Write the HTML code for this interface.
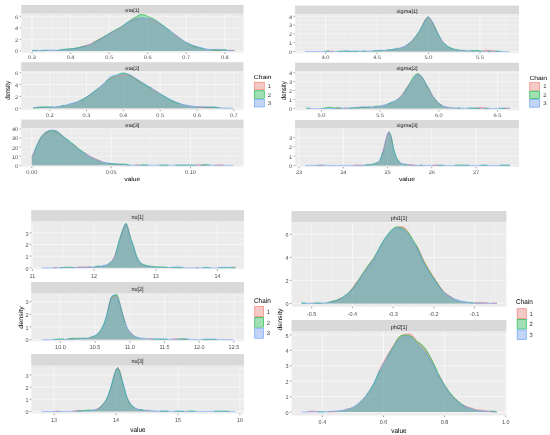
<!DOCTYPE html>
<html><head><meta charset="utf-8"><title>Density plots</title>
<style>
html,body{margin:0;padding:0;background:#fff;}
body{width:550px;height:435px;overflow:hidden;font-family:"Liberation Sans",sans-serif;}
svg{display:block;font-family:"Liberation Sans",sans-serif;filter:blur(0.3px);text-rendering:geometricPrecision;}
</style></head><body>
<svg width="550" height="435" viewBox="0 0 550 435">
<rect width="550" height="435" fill="#fff"/>
<rect x="21.20" y="5.00" width="222.30" height="8.80" fill="#d9d9d9"/>
<text transform="translate(132.35,12.15) scale(1.080,1)" font-size="5.20" text-anchor="middle" fill="#1a1a1a">eta[1]</text>
<rect x="21.20" y="13.80" width="222.30" height="38.80" fill="#ebebeb"/>
<clipPath id="c1"><rect x="21.20" y="13.80" width="222.30" height="38.80"/></clipPath>
<g clip-path="url(#c1)">
<path d="M21.2,45.13H243.5M21.2,33.60H243.5M21.2,22.07H243.5" stroke="#fff" stroke-width="0.23" stroke-opacity="0.8" fill="none"/>
<path d="M51.28,13.8V52.6M89.84,13.8V52.6M128.40,13.8V52.6M166.96,13.8V52.6M205.52,13.8V52.6" stroke="#fff" stroke-width="0.29" stroke-opacity="0.8" fill="none"/>
<path d="M21.2,50.90H243.5M21.2,39.37H243.5M21.2,27.83H243.5M21.2,16.30H243.5" stroke="#fff" stroke-width="0.47" fill="none"/>
<path d="M32.00,13.8V52.6M70.56,13.8V52.6M109.12,13.8V52.6M147.68,13.8V52.6M186.24,13.8V52.6M224.80,13.8V52.6" stroke="#fff" stroke-width="0.59" fill="none"/>
<path d="M32,50.6 33.4,50.4 34.8,50.3 36.2,50.3 37.7,50.4 39.1,50.5 40.5,50.5 41.9,50.4 43.3,50.4 44.7,50.3 46.2,50.3 47.6,50.3 49,50.3 50.4,50.3 51.8,50.3 53.2,50.3 54.7,50.2 56.1,50.2 57.5,50.1 58.9,50 60.3,49.9 61.7,49.8 63.1,49.7 64.6,49.5 66,49.4 67.4,49.2 68.8,49.1 70.2,48.8 71.6,48.6 73.1,48.4 74.5,48.1 75.9,47.9 77.3,47.6 78.7,47.3 80.1,47 81.5,46.6 83,46.2 84.4,45.9 85.8,45.4 87.2,45 88.6,44.6 90,44.1 91.5,43.4 92.9,42.7 94.3,41.9 95.7,41 97.1,40.2 98.5,39.4 100,38.7 101.4,38.1 102.8,37.4 104.2,36.7 105.6,35.9 107,35.2 108.4,34.4 109.9,33.7 111.3,33 112.7,32.3 114.1,31.6 115.5,30.9 116.9,30.2 118.4,29.4 119.8,28.5 121.2,27.5 122.6,26.5 124,25.3 125.4,24.2 126.8,23 128.3,22 129.7,21.2 131.1,20.4 132.5,19.8 133.9,19.2 135.3,18.8 136.8,18.3 138.2,18 139.6,17.7 141,17.7 142.4,17.8 143.8,17.9 145.3,18.2 146.7,18.5 148.1,18.9 149.5,19.2 150.9,19.6 152.3,20.1 153.7,20.7 155.2,21.4 156.6,22.2 158,23 159.4,23.8 160.8,24.6 162.2,25.5 163.7,26.3 165.1,27.2 166.5,28.2 167.9,29.2 169.3,30.2 170.7,31.3 172.2,32.4 173.6,33.5 175,34.7 176.4,35.8 177.8,36.9 179.2,38 180.6,38.9 182.1,39.8 183.5,40.6 184.9,41.4 186.3,42.2 187.7,43 189.1,43.8 190.6,44.5 192,45.1 193.4,45.7 194.8,46.2 196.2,46.7 197.6,47.2 199,47.6 200.5,48 201.9,48.3 203.3,48.5 204.7,48.8 206.1,49 207.5,49.2 209,49.4 210.4,49.5 211.8,49.7 213.2,49.8 214.6,49.8 216,49.8 217.5,49.8 218.9,49.7 220.3,49.5 221.7,49.6 223.1,49.8 224.5,50.1 225.9,50.3 227.4,50.3 228.8,50.3 230.2,50.2 231.6,50.2 233,50.3 234.4,50.6 V50.9 H32Z" fill="#F8766D" fill-opacity="0.33"/>
<path d="M32,50.4 33.4,50.4 34.8,50.4 36.2,50.4 37.7,50.5 39.1,50.6 40.5,50.6 41.9,50.7 43.3,50.7 44.7,50.6 46.2,50.5 47.6,50.3 49,50.2 50.4,50.2 51.8,50.3 53.2,50.4 54.7,50.4 56.1,50.3 57.5,50.2 58.9,50 60.3,49.8 61.7,49.6 63.1,49.4 64.6,49.2 66,49.1 67.4,48.9 68.8,48.8 70.2,48.7 71.6,48.6 73.1,48.5 74.5,48.3 75.9,48.1 77.3,47.8 78.7,47.5 80.1,47.2 81.5,46.9 83,46.6 84.4,46.2 85.8,45.8 87.2,45.4 88.6,45 90,44.4 91.5,43.8 92.9,43.1 94.3,42.3 95.7,41.5 97.1,40.6 98.5,39.8 100,39 101.4,38.2 102.8,37.3 104.2,36.4 105.6,35.5 107,34.7 108.4,33.8 109.9,33 111.3,32.2 112.7,31.4 114.1,30.6 115.5,29.8 116.9,29.1 118.4,28.3 119.8,27.6 121.2,26.8 122.6,25.8 124,24.8 125.4,23.8 126.8,22.7 128.3,21.7 129.7,20.7 131.1,19.8 132.5,18.9 133.9,18 135.3,17.2 136.8,16.3 138.2,15.4 139.6,14.8 141,14.5 142.4,14.5 143.8,14.8 145.3,15.3 146.7,15.8 148.1,16.5 149.5,17.1 150.9,17.7 152.3,18.3 153.7,19 155.2,19.9 156.6,20.8 158,21.8 159.4,22.8 160.8,23.8 162.2,24.8 163.7,25.8 165.1,26.8 166.5,27.9 167.9,29 169.3,30.1 170.7,31.1 172.2,32.2 173.6,33.3 175,34.4 176.4,35.4 177.8,36.5 179.2,37.6 180.6,38.6 182.1,39.6 183.5,40.6 184.9,41.5 186.3,42.5 187.7,43.4 189.1,44.2 190.6,44.9 192,45.6 193.4,46.1 194.8,46.6 196.2,47 197.6,47.4 199,47.7 200.5,48 201.9,48.2 203.3,48.5 204.7,48.7 206.1,49 207.5,49.2 209,49.5 210.4,49.7 211.8,49.9 213.2,50 214.6,50.1 216,50.2 217.5,50.3 218.9,50.3 220.3,50.2 221.7,50 223.1,49.7 224.5,49.6 225.9,49.8 227.4,50.2 228.8,50.5 230.2,50.7 231.6,50.7 233,50.8 234.4,50.8 V50.9 H32Z" fill="#00BA38" fill-opacity="0.33"/>
<path d="M32,50.9 33.4,50.9 34.8,50.9 36.2,50.9 37.7,50.7 39.1,50.6 40.5,50.4 41.9,50.3 43.3,50.2 44.7,50.2 46.2,50.2 47.6,50.1 49,50.1 50.4,50.1 51.8,50.2 53.2,50.2 54.7,50.2 56.1,50.3 57.5,50.2 58.9,50.2 60.3,50.1 61.7,50 63.1,49.8 64.6,49.7 66,49.6 67.4,49.4 68.8,49.3 70.2,49.1 71.6,49 73.1,48.8 74.5,48.6 75.9,48.4 77.3,48.1 78.7,47.8 80.1,47.5 81.5,47.2 83,46.9 84.4,46.5 85.8,46 87.2,45.6 88.6,45.1 90,44.5 91.5,43.9 92.9,43.3 94.3,42.6 95.7,41.8 97.1,41.1 98.5,40.3 100,39.6 101.4,38.8 102.8,37.9 104.2,37 105.6,36.1 107,35.2 108.4,34.3 109.9,33.4 111.3,32.5 112.7,31.8 114.1,31 115.5,30.3 116.9,29.6 118.4,28.8 119.8,28 121.2,27.1 122.6,26.1 124,25.1 125.4,24 126.8,23 128.3,22.1 129.7,21.3 131.1,20.7 132.5,20.1 133.9,19.6 135.3,19.1 136.8,18.7 138.2,18.2 139.6,17.9 141,17.8 142.4,17.8 143.8,17.9 145.3,18.1 146.7,18.3 148.1,18.6 149.5,18.8 150.9,19 152.3,19.4 153.7,19.9 155.2,20.6 156.6,21.4 158,22.3 159.4,23.3 160.8,24.3 162.2,25.3 163.7,26.3 165.1,27.3 166.5,28.4 167.9,29.4 169.3,30.4 170.7,31.3 172.2,32.3 173.6,33.3 175,34.4 176.4,35.5 177.8,36.6 179.2,37.7 180.6,38.7 182.1,39.7 183.5,40.6 184.9,41.5 186.3,42.4 187.7,43.1 189.1,43.8 190.6,44.5 192,45 193.4,45.5 194.8,45.9 196.2,46.4 197.6,46.8 199,47.2 200.5,47.6 201.9,47.9 203.3,48.3 204.7,48.6 206.1,48.9 207.5,49.1 209,49.3 210.4,49.5 211.8,49.5 213.2,49.5 214.6,49.4 216,49.3 217.5,49.3 218.9,49.4 220.3,49.5 221.7,49.7 223.1,49.9 224.5,50.1 225.9,50.2 227.4,50.4 228.8,50.5 230.2,50.5 231.6,50.6 233,50.6 234.4,50.7 V50.9 H32Z" fill="#619CFF" fill-opacity="0.33"/>
<path d="M80.1,47 81.5,46.6 83,46.2 84.4,45.9 85.8,45.4 87.2,45 88.6,44.6 90,44.1 91.5,43.4 92.9,42.7 94.3,41.9 95.7,41 97.1,40.2 98.5,39.4 100,38.7 101.4,38.1 102.8,37.4 104.2,36.7 105.6,35.9M108.4,34.4 109.9,33.7 111.3,33 112.7,32.3 114.1,31.6 115.5,30.9 116.9,30.2 118.4,29.4 119.8,28.5 121.2,27.5 122.6,26.5 124,25.3M129.7,21.2 131.1,20.4 132.5,19.8 133.9,19.2 135.3,18.8 136.8,18.3 138.2,18M146.7,18.5 148.1,18.9 149.5,19.2 150.9,19.6 152.3,20.1 153.7,20.7 155.2,21.4 156.6,22.2 158,23 159.4,23.8 160.8,24.6 162.2,25.5M173.6,33.5 175,34.7 176.4,35.8 177.8,36.9 179.2,38 180.6,38.9M193.4,45.7 194.8,46.2 196.2,46.7 197.6,47.2M213.2,49.8 214.6,49.8 216,49.8 217.5,49.8 218.9,49.7 220.3,49.5M228.8,50.3 230.2,50.2 231.6,50.2 233,50.3 234.4,50.6" fill="none" stroke="#F8766D" stroke-width="0.62" stroke-opacity="0.9" stroke-linejoin="round" stroke-linecap="butt"/>
<path d="M32,50.4 33.4,50.4 34.8,50.4 36.2,50.4 37.7,50.5M40.5,50.6 41.9,50.7 43.3,50.7 44.7,50.6 46.2,50.5 47.6,50.3M58.9,50 60.3,49.8 61.7,49.6 63.1,49.4 64.6,49.2 66,49.1 67.4,48.9 68.8,48.8 70.2,48.7 71.6,48.6 73.1,48.5 74.5,48.3 75.9,48.1 77.3,47.8 78.7,47.5 80.1,47.2 81.5,46.9 83,46.6 84.4,46.2 85.8,45.8M92.9,43.1 94.3,42.3 95.7,41.5 97.1,40.6 98.5,39.8 100,39 101.4,38.2 102.8,37.3 104.2,36.4 105.6,35.5 107,34.7 108.4,33.8 109.9,33 111.3,32.2 112.7,31.4 114.1,30.6 115.5,29.8 116.9,29.1 118.4,28.3 119.8,27.6 121.2,26.8 122.6,25.8 124,24.8 125.4,23.8 126.8,22.7 128.3,21.7 129.7,20.7 131.1,19.8 132.5,18.9 133.9,18 135.3,17.2 136.8,16.3 138.2,15.4 139.6,14.8 141,14.5 142.4,14.5 143.8,14.8 145.3,15.3 146.7,15.8 148.1,16.5 149.5,17.1 150.9,17.7 152.3,18.3 153.7,19 155.2,19.9 156.6,20.8 158,21.8 159.4,22.8 160.8,23.8 162.2,24.8 163.7,25.8 165.1,26.8 166.5,27.9 167.9,29 169.3,30.1 170.7,31.1M186.3,42.5 187.7,43.4 189.1,44.2 190.6,44.9 192,45.6 193.4,46.1 194.8,46.6 196.2,47 197.6,47.4 199,47.7 200.5,48 201.9,48.2 203.3,48.5M210.4,49.7 211.8,49.9 213.2,50 214.6,50.1 216,50.2 217.5,50.3 218.9,50.3 220.3,50.2 221.7,50 223.1,49.7 224.5,49.6 225.9,49.8 227.4,50.2" fill="none" stroke="#00BA38" stroke-width="0.62" stroke-opacity="0.9" stroke-linejoin="round" stroke-linecap="butt"/>
<path d="M32,50.9 33.4,50.9 34.8,50.9 36.2,50.9 37.7,50.7 39.1,50.6 40.5,50.4 41.9,50.3 43.3,50.2 44.7,50.2 46.2,50.2 47.6,50.1 49,50.1 50.4,50.1 51.8,50.2 53.2,50.2 54.7,50.2 56.1,50.3 57.5,50.2 58.9,50.2 60.3,50.1 61.7,50 63.1,49.8 64.6,49.7 66,49.6 67.4,49.4 68.8,49.3 70.2,49.1 71.6,49 73.1,48.8 74.5,48.6 75.9,48.4 77.3,48.1 78.7,47.8 80.1,47.5 81.5,47.2 83,46.9 84.4,46.5 85.8,46 87.2,45.6 88.6,45.1 90,44.5 91.5,43.9 92.9,43.3 94.3,42.6 95.7,41.8 97.1,41.1 98.5,40.3 100,39.6 101.4,38.8 102.8,37.9 104.2,37 105.6,36.1 107,35.2 108.4,34.3 109.9,33.4 111.3,32.5 112.7,31.8 114.1,31 115.5,30.3 116.9,29.6 118.4,28.8 119.8,28 121.2,27.1 122.6,26.1 124,25.1 125.4,24 126.8,23 128.3,22.1 129.7,21.3 131.1,20.7 132.5,20.1 133.9,19.6 135.3,19.1 136.8,18.7 138.2,18.2 139.6,17.9 141,17.8 142.4,17.8 143.8,17.9 145.3,18.1 146.7,18.3 148.1,18.6 149.5,18.8 150.9,19 152.3,19.4 153.7,19.9 155.2,20.6 156.6,21.4 158,22.3 159.4,23.3 160.8,24.3 162.2,25.3 163.7,26.3 165.1,27.3 166.5,28.4 167.9,29.4 169.3,30.4 170.7,31.3 172.2,32.3 173.6,33.3 175,34.4 176.4,35.5 177.8,36.6 179.2,37.7 180.6,38.7 182.1,39.7 183.5,40.6 184.9,41.5 186.3,42.4 187.7,43.1 189.1,43.8 190.6,44.5 192,45 193.4,45.5 194.8,45.9 196.2,46.4 197.6,46.8 199,47.2 200.5,47.6 201.9,47.9 203.3,48.3 204.7,48.6 206.1,48.9 207.5,49.1 209,49.3 210.4,49.5 211.8,49.5 213.2,49.5 214.6,49.4 216,49.3 217.5,49.3 218.9,49.4 220.3,49.5 221.7,49.7 223.1,49.9 224.5,50.1 225.9,50.2 227.4,50.4 228.8,50.5 230.2,50.5 231.6,50.6 233,50.6 234.4,50.7" fill="none" stroke="#619CFF" stroke-width="0.62" stroke-opacity="0.9" stroke-linejoin="round" stroke-linecap="butt"/>
</g>
<path d="M19.50,50.90H21.20M19.50,39.37H21.20M19.50,27.83H21.20M19.50,16.30H21.20" stroke="#555" stroke-width="0.47" fill="none"/>
<path d="M32.00,52.60V53.95M70.56,52.60V53.95M109.12,52.60V53.95M147.68,52.60V53.95M186.24,52.60V53.95M224.80,52.60V53.95" stroke="#555" stroke-width="0.59" fill="none"/>
<text transform="translate(18.14,53.28) scale(1.080,1)" font-size="5.20" text-anchor="end" fill="#4d4d4d">0</text>
<text transform="translate(18.14,41.75) scale(1.080,1)" font-size="5.20" text-anchor="end" fill="#4d4d4d">2</text>
<text transform="translate(18.14,30.21) scale(1.080,1)" font-size="5.20" text-anchor="end" fill="#4d4d4d">4</text>
<text transform="translate(18.14,18.68) scale(1.080,1)" font-size="5.20" text-anchor="end" fill="#4d4d4d">6</text>
<text transform="translate(32.00,59.26) scale(1.080,1)" font-size="5.20" text-anchor="middle" fill="#4d4d4d">0.3</text>
<text transform="translate(70.56,59.26) scale(1.080,1)" font-size="5.20" text-anchor="middle" fill="#4d4d4d">0.4</text>
<text transform="translate(109.12,59.26) scale(1.080,1)" font-size="5.20" text-anchor="middle" fill="#4d4d4d">0.5</text>
<text transform="translate(147.68,59.26) scale(1.080,1)" font-size="5.20" text-anchor="middle" fill="#4d4d4d">0.6</text>
<text transform="translate(186.24,59.26) scale(1.080,1)" font-size="5.20" text-anchor="middle" fill="#4d4d4d">0.7</text>
<text transform="translate(224.80,59.26) scale(1.080,1)" font-size="5.20" text-anchor="middle" fill="#4d4d4d">0.8</text>
<rect x="21.20" y="62.20" width="222.30" height="9.20" fill="#d9d9d9"/>
<text transform="translate(132.35,69.55) scale(1.080,1)" font-size="5.20" text-anchor="middle" fill="#1a1a1a">eta[2]</text>
<rect x="21.20" y="71.40" width="222.30" height="38.40" fill="#ebebeb"/>
<clipPath id="c2"><rect x="21.20" y="71.40" width="222.30" height="38.40"/></clipPath>
<g clip-path="url(#c2)">
<path d="M21.2,102.28H243.5M21.2,90.45H243.5M21.2,78.62H243.5" stroke="#fff" stroke-width="0.23" stroke-opacity="0.8" fill="none"/>
<path d="M31.29,71.4V109.8M68.11,71.4V109.8M104.93,71.4V109.8M141.75,71.4V109.8M178.57,71.4V109.8M215.39,71.4V109.8" stroke="#fff" stroke-width="0.29" stroke-opacity="0.8" fill="none"/>
<path d="M21.2,108.20H243.5M21.2,96.37H243.5M21.2,84.53H243.5M21.2,72.70H243.5" stroke="#fff" stroke-width="0.47" fill="none"/>
<path d="M49.70,71.4V109.8M86.52,71.4V109.8M123.34,71.4V109.8M160.16,71.4V109.8M196.98,71.4V109.8M233.80,71.4V109.8" stroke="#fff" stroke-width="0.59" fill="none"/>
<path d="M33.1,107.5 34.5,107.3 36,107.2 37.4,107 38.8,106.9 40.2,106.8 41.6,106.9 43,106.9 44.4,106.9 45.8,106.9 47.2,106.9 48.6,106.9 50.1,106.9 51.5,107 52.9,107 54.3,106.9 55.7,106.8 57.1,106.6 58.5,106.4 59.9,106.2 61.3,106 62.8,105.7 64.2,105.5 65.6,105.2 67,104.9 68.4,104.5 69.8,104.2 71.2,103.8 72.6,103.3 74,102.8 75.4,102.3 76.9,101.7 78.3,101.1 79.7,100.5 81.1,99.8 82.5,99.1 83.9,98.3 85.3,97.5 86.7,96.6 88.1,95.6 89.6,94.6 91,93.6 92.4,92.6 93.8,91.6 95.2,90.5 96.6,89.4 98,88.2 99.4,87.1 100.8,85.9 102.2,84.8 103.7,83.7 105.1,82.5 106.5,81.3 107.9,80.2 109.3,79.3 110.7,78.6 112.1,78 113.5,77.5 114.9,77.1 116.4,76.7 117.8,76.3 119.2,75.9 120.6,75.5 122,75.1 123.4,74.9 124.8,74.8 126.2,74.9 127.6,75.1 129,75.4 130.5,75.8 131.9,76.6 133.3,77.6 134.7,78.6 136.1,79.6 137.5,80.6 138.9,81.6 140.3,82.5 141.7,83.3 143.2,84.1 144.6,84.8 146,85.5 147.4,86.3 148.8,87.1 150.2,88 151.6,88.8 153,89.7 154.4,90.5 155.9,91.3 157.3,92.1 158.7,92.9 160.1,93.7 161.5,94.5 162.9,95.4 164.3,96.3 165.7,97.2 167.1,98.2 168.5,99.1 170,99.9 171.4,100.6 172.8,101.2 174.2,101.7 175.6,102.2 177,102.6 178.4,103.1 179.8,103.5 181.2,103.9 182.7,104.2 184.1,104.6 185.5,104.9 186.9,105.2 188.3,105.4 189.7,105.7 191.1,105.9 192.5,106.2 193.9,106.4 195.3,106.6 196.8,106.8 198.2,107 199.6,107.1 201,107.2 202.4,107.3 203.8,107.4 205.2,107.4 206.6,107.5 208,107.6 209.5,107.6 210.9,107.6 212.3,107.5 213.7,107.3 215.1,107.2 216.5,107.3 217.9,107.5 219.3,107.7 220.7,107.9 222.1,108 223.6,108.1 225,108.1 226.4,108.2 227.8,108.2 229.2,108.2 230.6,108.2 232,108.2 233.4,108.2 V108.2 H33.1Z" fill="#F8766D" fill-opacity="0.33"/>
<path d="M33.1,108.1 34.5,108.1 36,107.9 37.4,107.8 38.8,107.7 40.2,107.5 41.6,107.3 43,107.1 44.4,106.9 45.8,106.8 47.2,106.8 48.6,106.8 50.1,106.9 51.5,106.9 52.9,106.9 54.3,106.8 55.7,106.7 57.1,106.5 58.5,106.3 59.9,106 61.3,105.8 62.8,105.5 64.2,105.3 65.6,105 67,104.7 68.4,104.4 69.8,104 71.2,103.6 72.6,103.2 74,102.7 75.4,102.2 76.9,101.8 78.3,101.3 79.7,100.7 81.1,100.2 82.5,99.6 83.9,98.9 85.3,98.1 86.7,97.3 88.1,96.3 89.6,95.3 91,94.2 92.4,93.1 93.8,92 95.2,90.9 96.6,89.7 98,88.5 99.4,87.3 100.8,86.1 102.2,84.8 103.7,83.6 105.1,82.4 106.5,81.2 107.9,80 109.3,79 110.7,78.1 112.1,77.4 113.5,76.8 114.9,76.1 116.4,75.5 117.8,74.8 119.2,74.1 120.6,73.5 122,73 123.4,72.9 124.8,73 126.2,73.4 127.6,74 129,74.7 130.5,75.4 131.9,76.3 133.3,77.3 134.7,78.3 136.1,79.3 137.5,80.2 138.9,81.2 140.3,82.1 141.7,83 143.2,83.9 144.6,84.7 146,85.4 147.4,86.2 148.8,86.9 150.2,87.6 151.6,88.3 153,89.1 154.4,90 155.9,90.9 157.3,91.8 158.7,92.8 160.1,93.7 161.5,94.7 162.9,95.6 164.3,96.5 165.7,97.4 167.1,98.3 168.5,99.1 170,99.9 171.4,100.6 172.8,101.3 174.2,101.8 175.6,102.4 177,102.9 178.4,103.3 179.8,103.7 181.2,104.1 182.7,104.4 184.1,104.7 185.5,105 186.9,105.3 188.3,105.6 189.7,105.8 191.1,106 192.5,106.2 193.9,106.3 195.3,106.4 196.8,106.5 198.2,106.6 199.6,106.7 201,106.7 202.4,106.8 203.8,107 205.2,107.1 206.6,107.2 208,107.3 209.5,107.4 210.9,107.3 212.3,107.3 213.7,107.3 215.1,107.3 216.5,107.5 217.9,107.7 219.3,107.8 220.7,107.9 222.1,108 223.6,108 225,108 226.4,108.1 227.8,108.1 229.2,108.1 230.6,108.1 232,108.1 233.4,108.1 V108.2 H33.1Z" fill="#00BA38" fill-opacity="0.33"/>
<path d="M33.1,107.7 34.5,107.5 36,107.3 37.4,107.1 38.8,106.9 40.2,106.8 41.6,106.9 43,107 44.4,107.2 45.8,107.3 47.2,107.4 48.6,107.4 50.1,107.3 51.5,107.2 52.9,107.1 54.3,107 55.7,106.8 57.1,106.6 58.5,106.4 59.9,106.2 61.3,106 62.8,105.8 64.2,105.5 65.6,105.1 67,104.8 68.4,104.3 69.8,103.9 71.2,103.5 72.6,103.1 74,102.7 75.4,102.3 76.9,101.8 78.3,101.2 79.7,100.6 81.1,99.9 82.5,99.2 83.9,98.5 85.3,97.6 86.7,96.7 88.1,95.8 89.6,94.8 91,93.7 92.4,92.7 93.8,91.6 95.2,90.6 96.6,89.4 98,88.3 99.4,87.1 100.8,86 102.2,84.8 103.7,83.6 105.1,82.2 106.5,80.7 107.9,79.1 109.3,77.7 110.7,76.6 112.1,76 113.5,75.6 114.9,75.4 116.4,75.2 117.8,74.8 119.2,74.4 120.6,74.1 122,73.8 123.4,73.7 124.8,73.7 126.2,73.9 127.6,74.2 129,74.6 130.5,75 131.9,75.7 133.3,76.7 134.7,77.6 136.1,78.5 137.5,79.4 138.9,80.2 140.3,81.1 141.7,81.9 143.2,82.8 144.6,83.7 146,84.6 147.4,85.5 148.8,86.4 150.2,87.3 151.6,88.1 153,89 154.4,89.9 155.9,90.8 157.3,91.7 158.7,92.6 160.1,93.5 161.5,94.3 162.9,95.2 164.3,96 165.7,96.8 167.1,97.6 168.5,98.4 170,99.1 171.4,99.8 172.8,100.5 174.2,101.1 175.6,101.8 177,102.4 178.4,103 179.8,103.5 181.2,103.9 182.7,104.3 184.1,104.7 185.5,105 186.9,105.3 188.3,105.6 189.7,105.8 191.1,106 192.5,106.1 193.9,106.3 195.3,106.4 196.8,106.6 198.2,106.7 199.6,106.7 201,106.8 202.4,106.8 203.8,106.8 205.2,106.8 206.6,106.9 208,106.9 209.5,106.9 210.9,106.8 212.3,106.8 213.7,106.8 215.1,106.9 216.5,107.1 217.9,107.4 219.3,107.6 220.7,107.8 222.1,107.9 223.6,108 225,108 226.4,108.1 227.8,108.1 229.2,108.2 230.6,108.2 232,108.2 233.4,108.2 V108.2 H33.1Z" fill="#619CFF" fill-opacity="0.33"/>
<path d="M107.9,80.2 109.3,79.3 110.7,78.6 112.1,78 113.5,77.5 114.9,77.1 116.4,76.7 117.8,76.3 119.2,75.9 120.6,75.5 122,75.1 123.4,74.9 124.8,74.8 126.2,74.9 127.6,75.1 129,75.4 130.5,75.8 131.9,76.6 133.3,77.6 134.7,78.6 136.1,79.6 137.5,80.6 138.9,81.6 140.3,82.5 141.7,83.3 143.2,84.1M148.8,87.1 150.2,88 151.6,88.8 153,89.7 154.4,90.5 155.9,91.3 157.3,92.1 158.7,92.9M196.8,106.8 198.2,107 199.6,107.1 201,107.2 202.4,107.3 203.8,107.4 205.2,107.4 206.6,107.5 208,107.6 209.5,107.6 210.9,107.6 212.3,107.5" fill="none" stroke="#F8766D" stroke-width="0.62" stroke-opacity="0.9" stroke-linejoin="round" stroke-linecap="butt"/>
<path d="M33.1,108.1 34.5,108.1 36,107.9 37.4,107.8 38.8,107.7 40.2,107.5 41.6,107.3 43,107.1 44.4,106.9 45.8,106.8 47.2,106.8 48.6,106.8 50.1,106.9 51.5,106.9 52.9,106.9M61.3,105.8 62.8,105.5 64.2,105.3M79.7,100.7 81.1,100.2 82.5,99.6 83.9,98.9 85.3,98.1 86.7,97.3 88.1,96.3 89.6,95.3 91,94.2 92.4,93.1 93.8,92 95.2,90.9 96.6,89.7 98,88.5M105.1,82.4 106.5,81.2 107.9,80 109.3,79 110.7,78.1 112.1,77.4 113.5,76.8 114.9,76.1 116.4,75.5 117.8,74.8 119.2,74.1 120.6,73.5 122,73 123.4,72.9 124.8,73 126.2,73.4 127.6,74 129,74.7 130.5,75.4 131.9,76.3 133.3,77.3 134.7,78.3 136.1,79.3 137.5,80.2 138.9,81.2 140.3,82.1 141.7,83 143.2,83.9 144.6,84.7 146,85.4 147.4,86.2 148.8,86.9 150.2,87.6 151.6,88.3M160.1,93.7 161.5,94.7 162.9,95.6 164.3,96.5 165.7,97.4 167.1,98.3 168.5,99.1 170,99.9 171.4,100.6 172.8,101.3 174.2,101.8 175.6,102.4 177,102.9 178.4,103.3 179.8,103.7M203.8,107 205.2,107.1 206.6,107.2 208,107.3 209.5,107.4 210.9,107.3 212.3,107.3 213.7,107.3 215.1,107.3 216.5,107.5 217.9,107.7 219.3,107.8" fill="none" stroke="#00BA38" stroke-width="0.62" stroke-opacity="0.9" stroke-linejoin="round" stroke-linecap="butt"/>
<path d="M33.1,107.7 34.5,107.5 36,107.3 37.4,107.1 38.8,106.9 40.2,106.8 41.6,106.9 43,107 44.4,107.2 45.8,107.3 47.2,107.4 48.6,107.4 50.1,107.3 51.5,107.2 52.9,107.1 54.3,107 55.7,106.8 57.1,106.6 58.5,106.4 59.9,106.2 61.3,106 62.8,105.8 64.2,105.5 65.6,105.1 67,104.8 68.4,104.3 69.8,103.9 71.2,103.5 72.6,103.1 74,102.7 75.4,102.3 76.9,101.8 78.3,101.2 79.7,100.6 81.1,99.9 82.5,99.2 83.9,98.5 85.3,97.6 86.7,96.7 88.1,95.8 89.6,94.8 91,93.7 92.4,92.7 93.8,91.6 95.2,90.6 96.6,89.4 98,88.3 99.4,87.1 100.8,86 102.2,84.8 103.7,83.6 105.1,82.2 106.5,80.7 107.9,79.1 109.3,77.7 110.7,76.6 112.1,76 113.5,75.6 114.9,75.4 116.4,75.2 117.8,74.8 119.2,74.4 120.6,74.1 122,73.8 123.4,73.7 124.8,73.7 126.2,73.9 127.6,74.2 129,74.6 130.5,75 131.9,75.7 133.3,76.7 134.7,77.6 136.1,78.5 137.5,79.4 138.9,80.2 140.3,81.1 141.7,81.9 143.2,82.8 144.6,83.7 146,84.6 147.4,85.5 148.8,86.4 150.2,87.3 151.6,88.1 153,89 154.4,89.9 155.9,90.8 157.3,91.7 158.7,92.6 160.1,93.5 161.5,94.3 162.9,95.2 164.3,96 165.7,96.8 167.1,97.6 168.5,98.4 170,99.1 171.4,99.8 172.8,100.5 174.2,101.1 175.6,101.8 177,102.4 178.4,103 179.8,103.5 181.2,103.9 182.7,104.3 184.1,104.7 185.5,105 186.9,105.3 188.3,105.6 189.7,105.8 191.1,106 192.5,106.1 193.9,106.3 195.3,106.4 196.8,106.6 198.2,106.7 199.6,106.7 201,106.8 202.4,106.8 203.8,106.8 205.2,106.8 206.6,106.9 208,106.9 209.5,106.9 210.9,106.8 212.3,106.8 213.7,106.8 215.1,106.9 216.5,107.1 217.9,107.4 219.3,107.6 220.7,107.8 222.1,107.9 223.6,108 225,108 226.4,108.1 227.8,108.1 229.2,108.2 230.6,108.2 232,108.2 233.4,108.2" fill="none" stroke="#619CFF" stroke-width="0.62" stroke-opacity="0.9" stroke-linejoin="round" stroke-linecap="butt"/>
</g>
<path d="M19.50,108.20H21.20M19.50,96.37H21.20M19.50,84.53H21.20M19.50,72.70H21.20" stroke="#555" stroke-width="0.47" fill="none"/>
<path d="M49.70,109.80V111.15M86.52,109.80V111.15M123.34,109.80V111.15M160.16,109.80V111.15M196.98,109.80V111.15M233.80,109.80V111.15" stroke="#555" stroke-width="0.59" fill="none"/>
<text transform="translate(18.14,110.58) scale(1.080,1)" font-size="5.20" text-anchor="end" fill="#4d4d4d">0</text>
<text transform="translate(18.14,98.75) scale(1.080,1)" font-size="5.20" text-anchor="end" fill="#4d4d4d">2</text>
<text transform="translate(18.14,86.91) scale(1.080,1)" font-size="5.20" text-anchor="end" fill="#4d4d4d">4</text>
<text transform="translate(18.14,75.08) scale(1.080,1)" font-size="5.20" text-anchor="end" fill="#4d4d4d">6</text>
<text transform="translate(49.70,117.06) scale(1.080,1)" font-size="5.20" text-anchor="middle" fill="#4d4d4d">0.2</text>
<text transform="translate(86.52,117.06) scale(1.080,1)" font-size="5.20" text-anchor="middle" fill="#4d4d4d">0.3</text>
<text transform="translate(123.34,117.06) scale(1.080,1)" font-size="5.20" text-anchor="middle" fill="#4d4d4d">0.4</text>
<text transform="translate(160.16,117.06) scale(1.080,1)" font-size="5.20" text-anchor="middle" fill="#4d4d4d">0.5</text>
<text transform="translate(196.98,117.06) scale(1.080,1)" font-size="5.20" text-anchor="middle" fill="#4d4d4d">0.6</text>
<text transform="translate(233.80,117.06) scale(1.080,1)" font-size="5.20" text-anchor="middle" fill="#4d4d4d">0.7</text>
<rect x="21.20" y="119.60" width="222.30" height="8.90" fill="#d9d9d9"/>
<text transform="translate(132.35,126.80) scale(1.080,1)" font-size="5.20" text-anchor="middle" fill="#1a1a1a">eta[3]</text>
<rect x="21.20" y="128.50" width="222.30" height="38.30" fill="#ebebeb"/>
<clipPath id="c3"><rect x="21.20" y="128.50" width="222.30" height="38.30"/></clipPath>
<g clip-path="url(#c3)">
<path d="M21.2,160.76H243.5M21.2,151.69H243.5M21.2,142.61H243.5M21.2,133.54H243.5" stroke="#fff" stroke-width="0.23" stroke-opacity="0.8" fill="none"/>
<path d="M71.47,128.5V166.8M150.83,128.5V166.8M230.18,128.5V166.8" stroke="#fff" stroke-width="0.29" stroke-opacity="0.8" fill="none"/>
<path d="M21.2,165.30H243.5M21.2,156.23H243.5M21.2,147.15H243.5M21.2,138.07H243.5M21.2,129.00H243.5" stroke="#fff" stroke-width="0.47" fill="none"/>
<path d="M31.80,128.5V166.8M111.15,128.5V166.8M190.50,128.5V166.8" stroke="#fff" stroke-width="0.59" fill="none"/>
<path d="M31.8,157.2 33.2,154.2 34.6,150.8 36.1,147.6 37.5,144.5 38.9,141.6 40.3,139 41.7,136.9 43.2,135.1 44.6,133.6 46,132.6 47.4,131.9 48.8,131.3 50.3,130.9 51.7,130.7 53.1,130.7 54.5,130.8 55.9,131.1 57.3,131.5 58.8,132.3 60.2,133.5 61.6,134.8 63,136 64.4,137.3 65.9,138.6 67.3,139.9 68.7,141.1 70.1,142.3 71.5,143.4 73,144.5 74.4,145.6 75.8,146.6 77.2,147.7 78.6,148.7 80.1,149.7 81.5,150.7 82.9,151.7 84.3,152.6 85.7,153.5 87.2,154.4 88.6,155.3 90,156.1 91.4,156.9 92.8,157.6 94.3,158.3 95.7,158.9 97.1,159.6 98.5,160.2 99.9,160.7 101.3,161.3 102.8,161.7 104.2,162.1 105.6,162.4 107,162.8 108.4,163.1 109.9,163.3 111.3,163.6 112.7,163.8 114.1,164 115.5,164.2 117,164.3 118.4,164.5 119.8,164.6 121.2,164.7 122.6,164.8 124.1,164.9 125.5,165 126.9,165 128.3,165.1 129.7,165.1 131.2,165.1 132.6,165.1 134,165 135.4,164.9 136.8,164.8 138.3,164.8 139.7,164.8 141.1,164.9 142.5,165 143.9,165.1 145.3,165.2 146.8,165.3 148.2,165.3 149.6,165.3 151,165.3 152.4,165.3 153.9,165.3 155.3,165.3 156.7,165.2 158.1,165.2 159.5,165.1 161,165 162.4,165 163.8,165 165.2,165 166.6,165 168.1,165.1 169.5,165.2 170.9,165.3 172.3,165.3 173.7,165.3 175.2,165.3 176.6,165.3 178,165.3 179.4,165.3 180.8,165.3 182.3,165.3 183.7,165.3 185.1,165.3 186.5,165.3 187.9,165.3 189.3,165.3 190.8,165.3 192.2,165.2 193.6,165.1 195,165 196.4,164.9 197.9,164.8 199.3,164.8 200.7,164.8 202.1,164.9 203.5,164.9 205,165 206.4,165 207.8,165.1 209.2,165.1 210.6,165.2 212.1,165.2 213.5,165.2 214.9,165.1 216.3,165 217.7,164.9 219.2,164.9 220.6,164.9 222,165 223.4,165.2 224.8,165.3 226.3,165.3 227.7,165.3 229.1,165.3 230.5,165.3 231.9,165.3 233.3,165.3 V165.3 H31.8Z" fill="#F8766D" fill-opacity="0.33"/>
<path d="M31.8,156.8 33.2,153.8 34.6,150.4 36.1,147.1 37.5,143.9 38.9,140.8 40.3,138.1 41.7,136.1 43.2,134.4 44.6,133.1 46,132.2 47.4,131.6 48.8,131.1 50.3,130.8 51.7,130.7 53.1,130.9 54.5,131.3 55.9,131.7 57.3,132.3 58.8,133.3 60.2,134.4 61.6,135.5 63,136.5 64.4,137.5 65.9,138.5 67.3,139.5 68.7,140.5 70.1,141.6 71.5,142.7 73,143.8 74.4,145 75.8,146.2 77.2,147.4 78.6,148.5 80.1,149.7 81.5,150.8 82.9,151.8 84.3,152.8 85.7,153.8 87.2,154.8 88.6,155.7 90,156.5 91.4,157.3 92.8,158 94.3,158.7 95.7,159.4 97.1,160 98.5,160.5 99.9,161 101.3,161.5 102.8,161.9 104.2,162.3 105.6,162.6 107,163 108.4,163.3 109.9,163.6 111.3,163.8 112.7,164 114.1,164.1 115.5,164.2 117,164.2 118.4,164.2 119.8,164.2 121.2,164.1 122.6,164 124.1,164 125.5,164.2 126.9,164.5 128.3,164.7 129.7,164.9 131.2,165 132.6,165.1 134,165.1 135.4,165.1 136.8,165.1 138.3,165 139.7,165 141.1,164.9 142.5,164.8 143.9,164.8 145.3,164.9 146.8,164.9 148.2,165 149.6,165.2 151,165.3 152.4,165.3 153.9,165.3 155.3,165.3 156.7,165.3 158.1,165.3 159.5,165.3 161,165.3 162.4,165.3 163.8,165.3 165.2,165.3 166.6,165.3 168.1,165.3 169.5,165.3 170.9,165.3 172.3,165.3 173.7,165.3 175.2,165.3 176.6,165.3 178,165.3 179.4,165.3 180.8,165.3 182.3,165.3 183.7,165.3 185.1,165.3 186.5,165.3 187.9,165.3 189.3,165.3 190.8,165.3 192.2,165.3 193.6,165.3 195,165.3 196.4,165.3 197.9,165.3 199.3,165.3 200.7,165.2 202.1,165 203.5,164.8 205,164.7 206.4,164.7 207.8,164.8 209.2,164.8 210.6,165 212.1,165.1 213.5,165.2 214.9,165.3 216.3,165.3 217.7,165.3 219.2,165.3 220.6,165.3 222,165.3 223.4,165.3 224.8,165.3 226.3,165.3 227.7,165.3 229.1,165.3 230.5,165.3 231.9,165.3 233.3,165.3 V165.3 H31.8Z" fill="#00BA38" fill-opacity="0.33"/>
<path d="M31.8,156.9 33.2,153.9 34.6,150.6 36.1,147.4 37.5,144.3 38.9,141.3 40.3,138.8 41.7,136.6 43.2,134.7 44.6,133.2 46,132 47.4,131.3 48.8,130.6 50.3,130.2 51.7,130 53.1,130.1 54.5,130.3 55.9,130.7 57.3,131.3 58.8,132.3 60.2,133.5 61.6,134.8 63,136 64.4,137.3 65.9,138.6 67.3,139.9 68.7,141.1 70.1,142.4 71.5,143.6 73,144.8 74.4,145.9 75.8,147 77.2,148.2 78.6,149.2 80.1,150.3 81.5,151.3 82.9,152.2 84.3,153.1 85.7,154 87.2,154.9 88.6,155.7 90,156.5 91.4,157.3 92.8,158 94.3,158.6 95.7,159.3 97.1,159.9 98.5,160.4 99.9,161 101.3,161.5 102.8,161.9 104.2,162.3 105.6,162.6 107,162.9 108.4,163.1 109.9,163.3 111.3,163.4 112.7,163.5 114.1,163.6 115.5,163.7 117,163.8 118.4,164 119.8,164.2 121.2,164.4 122.6,164.6 124.1,164.7 125.5,164.8 126.9,164.9 128.3,165 129.7,165.1 131.2,165.1 132.6,165.2 134,165.2 135.4,165.2 136.8,165.2 138.3,165.2 139.7,165.2 141.1,165.2 142.5,165.3 143.9,165.3 145.3,165.3 146.8,165.3 148.2,165.2 149.6,165.2 151,165.2 152.4,165.2 153.9,165.2 155.3,165.2 156.7,165.2 158.1,165.1 159.5,165.1 161,165 162.4,164.9 163.8,164.9 165.2,164.9 166.6,165 168.1,165.1 169.5,165.2 170.9,165.2 172.3,165.2 173.7,165.2 175.2,165.1 176.6,165 178,164.9 179.4,164.8 180.8,164.8 182.3,164.9 183.7,164.9 185.1,165 186.5,165 187.9,164.9 189.3,164.8 190.8,164.8 192.2,164.9 193.6,165 195,165.2 196.4,165.2 197.9,165.3 199.3,165.3 200.7,165.3 202.1,165.3 203.5,165.3 205,165.3 206.4,165.2 207.8,165.1 209.2,165 210.6,164.9 212.1,165 213.5,165.1 214.9,165.3 216.3,165.3 217.7,165.3 219.2,165.3 220.6,165.3 222,165.3 223.4,165.3 224.8,165.3 226.3,165.3 227.7,165.3 229.1,165.3 230.5,165.3 231.9,165.3 233.3,165.3 V165.3 H31.8Z" fill="#619CFF" fill-opacity="0.33"/>
<path d="M31.8,157.2 33.2,154.2 34.6,150.8M37.5,144.5 38.9,141.6 40.3,139 41.7,136.9 43.2,135.1 44.6,133.6 46,132.6 47.4,131.9 48.8,131.3M53.1,130.7 54.5,130.8 55.9,131.1 57.3,131.5M71.5,143.4 73,144.5 74.4,145.6 75.8,146.6 77.2,147.7 78.6,148.7M84.3,152.6 85.7,153.5 87.2,154.4 88.6,155.3 90,156.1 91.4,156.9 92.8,157.6 94.3,158.3 95.7,158.9 97.1,159.6 98.5,160.2 99.9,160.7 101.3,161.3M117,164.3 118.4,164.5 119.8,164.6 121.2,164.7 122.6,164.8M135.4,164.9 136.8,164.8 138.3,164.8M195,165 196.4,164.9 197.9,164.8 199.3,164.8 200.7,164.8 202.1,164.9 203.5,164.9 205,165 206.4,165M214.9,165.1 216.3,165 217.7,164.9 219.2,164.9 220.6,164.9 222,165 223.4,165.2" fill="none" stroke="#F8766D" stroke-width="0.62" stroke-opacity="0.9" stroke-linejoin="round" stroke-linecap="butt"/>
<path d="M34.6,150.4 36.1,147.1 37.5,143.9 38.9,140.8 40.3,138.1 41.7,136.1 43.2,134.4 44.6,133.1 46,132.2 47.4,131.6 48.8,131.1 50.3,130.8 51.7,130.7 53.1,130.9 54.5,131.3 55.9,131.7 57.3,132.3 58.8,133.3 60.2,134.4 61.6,135.5 63,136.5 64.4,137.5 65.9,138.5 67.3,139.5 68.7,140.5 70.1,141.6 71.5,142.7 73,143.8 74.4,145 75.8,146.2 77.2,147.4 78.6,148.5 80.1,149.7 81.5,150.8 82.9,151.8 84.3,152.8 85.7,153.8M108.4,163.3 109.9,163.6 111.3,163.8 112.7,164 114.1,164.1 115.5,164.2 117,164.2 118.4,164.2 119.8,164.2 121.2,164.1 122.6,164 124.1,164 125.5,164.2 126.9,164.5 128.3,164.7 129.7,164.9M139.7,165 141.1,164.9 142.5,164.8 143.9,164.8 145.3,164.9 146.8,164.9 148.2,165M159.5,165.3 161,165.3 162.4,165.3 163.8,165.3 165.2,165.3 166.6,165.3 168.1,165.3M175.2,165.3 176.6,165.3 178,165.3 179.4,165.3 180.8,165.3 182.3,165.3 183.7,165.3 185.1,165.3 186.5,165.3 187.9,165.3 189.3,165.3 190.8,165.3 192.2,165.3 193.6,165.3 195,165.3M200.7,165.2 202.1,165 203.5,164.8 205,164.7 206.4,164.7 207.8,164.8 209.2,164.8" fill="none" stroke="#00BA38" stroke-width="0.62" stroke-opacity="0.9" stroke-linejoin="round" stroke-linecap="butt"/>
<path d="M31.8,156.9 33.2,153.9 34.6,150.6 36.1,147.4 37.5,144.3 38.9,141.3 40.3,138.8 41.7,136.6 43.2,134.7 44.6,133.2 46,132 47.4,131.3 48.8,130.6 50.3,130.2 51.7,130 53.1,130.1 54.5,130.3 55.9,130.7 57.3,131.3 58.8,132.3 60.2,133.5 61.6,134.8 63,136 64.4,137.3 65.9,138.6 67.3,139.9 68.7,141.1 70.1,142.4 71.5,143.6 73,144.8 74.4,145.9 75.8,147 77.2,148.2 78.6,149.2 80.1,150.3 81.5,151.3 82.9,152.2 84.3,153.1 85.7,154 87.2,154.9 88.6,155.7 90,156.5 91.4,157.3 92.8,158 94.3,158.6 95.7,159.3 97.1,159.9 98.5,160.4 99.9,161 101.3,161.5 102.8,161.9 104.2,162.3 105.6,162.6 107,162.9 108.4,163.1 109.9,163.3 111.3,163.4 112.7,163.5 114.1,163.6 115.5,163.7 117,163.8 118.4,164 119.8,164.2 121.2,164.4 122.6,164.6 124.1,164.7 125.5,164.8 126.9,164.9 128.3,165 129.7,165.1 131.2,165.1 132.6,165.2 134,165.2 135.4,165.2 136.8,165.2 138.3,165.2 139.7,165.2 141.1,165.2 142.5,165.3 143.9,165.3 145.3,165.3 146.8,165.3 148.2,165.2 149.6,165.2 151,165.2 152.4,165.2 153.9,165.2 155.3,165.2 156.7,165.2 158.1,165.1 159.5,165.1 161,165 162.4,164.9 163.8,164.9 165.2,164.9 166.6,165 168.1,165.1 169.5,165.2 170.9,165.2 172.3,165.2 173.7,165.2 175.2,165.1 176.6,165 178,164.9 179.4,164.8 180.8,164.8 182.3,164.9 183.7,164.9 185.1,165 186.5,165 187.9,164.9 189.3,164.8 190.8,164.8 192.2,164.9 193.6,165 195,165.2 196.4,165.2 197.9,165.3 199.3,165.3 200.7,165.3 202.1,165.3 203.5,165.3 205,165.3 206.4,165.2 207.8,165.1 209.2,165 210.6,164.9 212.1,165 213.5,165.1 214.9,165.3 216.3,165.3 217.7,165.3 219.2,165.3 220.6,165.3 222,165.3 223.4,165.3 224.8,165.3 226.3,165.3 227.7,165.3 229.1,165.3 230.5,165.3 231.9,165.3 233.3,165.3" fill="none" stroke="#619CFF" stroke-width="0.62" stroke-opacity="0.9" stroke-linejoin="round" stroke-linecap="butt"/>
</g>
<path d="M19.50,165.30H21.20M19.50,156.23H21.20M19.50,147.15H21.20M19.50,138.07H21.20M19.50,129.00H21.20" stroke="#555" stroke-width="0.47" fill="none"/>
<path d="M31.80,166.80V168.15M111.15,166.80V168.15M190.50,166.80V168.15" stroke="#555" stroke-width="0.59" fill="none"/>
<text transform="translate(18.14,167.68) scale(1.080,1)" font-size="5.20" text-anchor="end" fill="#4d4d4d">0</text>
<text transform="translate(18.14,158.61) scale(1.080,1)" font-size="5.20" text-anchor="end" fill="#4d4d4d">10</text>
<text transform="translate(18.14,149.53) scale(1.080,1)" font-size="5.20" text-anchor="end" fill="#4d4d4d">20</text>
<text transform="translate(18.14,140.46) scale(1.080,1)" font-size="5.20" text-anchor="end" fill="#4d4d4d">30</text>
<text transform="translate(18.14,131.38) scale(1.080,1)" font-size="5.20" text-anchor="end" fill="#4d4d4d">40</text>
<text transform="translate(31.80,174.06) scale(1.080,1)" font-size="5.20" text-anchor="middle" fill="#4d4d4d">0.00</text>
<text transform="translate(111.15,174.06) scale(1.080,1)" font-size="5.20" text-anchor="middle" fill="#4d4d4d">0.05</text>
<text transform="translate(190.50,174.06) scale(1.080,1)" font-size="5.20" text-anchor="middle" fill="#4d4d4d">0.10</text>
<text transform="translate(9.96,90.50) rotate(-90) scale(1,1.150)" font-size="5.90" text-anchor="middle" fill="#000">density</text>
<text transform="translate(132.30,181.11) scale(1.150,1)" font-size="5.90" text-anchor="middle" fill="#000">value</text>
<text transform="translate(253.80,78.61) scale(1.150,1)" font-size="5.90" text-anchor="start" fill="#000">Chain</text>
<rect x="254.00" y="81.80" width="10.70" height="8.50" fill="#f2f2f2"/>
<rect x="254.45" y="82.25" width="9.80" height="7.60" fill="#F8766D" fill-opacity="0.33" stroke="#F8766D" stroke-width="0.6"/>
<text transform="translate(269.30,88.02) scale(1.080,1)" font-size="5.51" text-anchor="middle" fill="#333">1</text>
<rect x="254.00" y="90.30" width="10.70" height="8.50" fill="#f2f2f2"/>
<rect x="254.45" y="90.75" width="9.80" height="7.60" fill="#00BA38" fill-opacity="0.33" stroke="#00BA38" stroke-width="0.6"/>
<text transform="translate(269.30,96.52) scale(1.080,1)" font-size="5.51" text-anchor="middle" fill="#333">2</text>
<rect x="254.00" y="98.80" width="10.70" height="8.60" fill="#f2f2f2"/>
<rect x="254.45" y="99.25" width="9.80" height="7.70" fill="#619CFF" fill-opacity="0.33" stroke="#619CFF" stroke-width="0.6"/>
<text transform="translate(269.30,105.07) scale(1.080,1)" font-size="5.51" text-anchor="middle" fill="#333">3</text>
<rect x="295.10" y="5.60" width="223.90" height="8.60" fill="#d9d9d9"/>
<text transform="translate(407.05,12.65) scale(1.080,1)" font-size="5.20" text-anchor="middle" fill="#1a1a1a">sigma[1]</text>
<rect x="295.10" y="14.20" width="223.90" height="38.60" fill="#ebebeb"/>
<clipPath id="c4"><rect x="295.10" y="14.20" width="223.90" height="38.60"/></clipPath>
<g clip-path="url(#c4)">
<path d="M295.1,47.10H519.0M295.1,38.30H519.0M295.1,29.50H519.0M295.1,20.70H519.0" stroke="#fff" stroke-width="0.23" stroke-opacity="0.8" fill="none"/>
<path d="M299.88,14.2V52.8M351.32,14.2V52.8M402.75,14.2V52.8M454.18,14.2V52.8M505.62,14.2V52.8" stroke="#fff" stroke-width="0.29" stroke-opacity="0.8" fill="none"/>
<path d="M295.1,51.50H519.0M295.1,42.70H519.0M295.1,33.90H519.0M295.1,25.10H519.0M295.1,16.30H519.0" stroke="#fff" stroke-width="0.47" fill="none"/>
<path d="M325.60,14.2V52.8M377.03,14.2V52.8M428.47,14.2V52.8M479.90,14.2V52.8" stroke="#fff" stroke-width="0.59" fill="none"/>
<path d="M305,51.5 306.4,51.5 307.9,51.5 309.3,51.5 310.7,51.5 312.1,51.5 313.5,51.5 315,51.5 316.4,51.5 317.8,51.5 319.2,51.5 320.6,51.5 322,51.5 323.5,51.5 324.9,51.3 326.3,51.2 327.7,51.1 329.1,51 330.6,51 332,51.2 333.4,51.3 334.8,51.3 336.2,51.4 337.6,51.5 339.1,51.5 340.5,51.5 341.9,51.5 343.3,51.5 344.7,51.5 346.1,51.5 347.6,51.5 349,51.5 350.4,51.4 351.8,51.5 353.2,51.5 354.7,51.4 356.1,51.4 357.5,51.3 358.9,51.4 360.3,51.3 361.7,51.3 363.2,51.3 364.6,51.2 366,51.1 367.4,51 368.8,50.9 370.3,51 371.7,51 373.1,50.9 374.5,50.8 375.9,50.8 377.3,50.7 378.8,50.5 380.2,50.6 381.6,50.4 383,50.3 384.4,50.2 385.9,50.2 387.3,50.1 388.7,49.8 390.1,49.8 391.5,49.6 392.9,49.3 394.4,49.1 395.8,49 397.2,48.8 398.6,48.5 400,47.9 401.4,47.4 402.9,46.7 404.3,46.1 405.7,45.4 407.1,44.8 408.5,44.2 410,43.3 411.4,42.1 412.8,40.7 414.2,38.9 415.6,36.9 417,34.8 418.5,32.8 419.9,30.5 421.3,27.8 422.7,24.7 424.1,21.8 425.6,19.2 427,18 428.4,17.6 429.8,18.8 431.2,20.9 432.6,23.4 434.1,26.2 435.5,28.9 436.9,31.5 438.3,34.1 439.7,37 441.2,39.6 442.6,41.7 444,43.2 445.4,44.6 446.8,45.7 448.2,46.8 449.7,47.6 451.1,48.4 452.5,48.9 453.9,49.3 455.3,49.4 456.8,49.7 458.2,49.9 459.6,50.1 461,50.3 462.4,50.4 463.8,50.3 465.3,50.3 466.7,50.4 468.1,50.4 469.5,50.5 470.9,50.6 472.3,50.7 473.8,50.9 475.2,51 476.6,51 478,51.1 479.4,51.1 480.9,51 482.3,50.9 483.7,50.5 485.1,50.2 486.5,50.1 487.9,50.2 489.4,50.4 490.8,50.5 492.2,50.6 493.6,50.8 495,50.9 496.5,51.1 497.9,51.2 499.3,51.3 500.7,51.4 502.1,51.5 503.5,51.5 505,51.5 506.4,51.5 507.8,51.5 509.2,51.5 V51.5 H305Z" fill="#F8766D" fill-opacity="0.33"/>
<path d="M305,51.5 306.4,51.5 307.9,51.5 309.3,51.5 310.7,51.5 312.1,51.5 313.5,51.5 315,51.5 316.4,51.5 317.8,51.5 319.2,51.5 320.6,51.5 322,51.5 323.5,51.4 324.9,51.3 326.3,51.1 327.7,51.1 329.1,51.3 330.6,51.5 332,51.5 333.4,51.5 334.8,51.5 336.2,51.4 337.6,51.3 339.1,51.2 340.5,51.2 341.9,51.3 343.3,51.5 344.7,51.5 346.1,51.5 347.6,51.5 349,51.5 350.4,51.5 351.8,51.5 353.2,51.5 354.7,51.5 356.1,51.5 357.5,51.4 358.9,51.3 360.3,51.3 361.7,51.3 363.2,51.4 364.6,51.4 366,51.3 367.4,51.2 368.8,51.2 370.3,51.1 371.7,50.9 373.1,50.8 374.5,50.9 375.9,50.9 377.3,50.8 378.8,50.7 380.2,50.5 381.6,50.6 383,50.4 384.4,50.2 385.9,50.1 387.3,49.9 388.7,49.7 390.1,49.6 391.5,49.6 392.9,49.5 394.4,49.3 395.8,49.1 397.2,48.8 398.6,48.3 400,47.9 401.4,47.6 402.9,46.9 404.3,46.4 405.7,45.7 407.1,44.7 408.5,43.9 410,42.9 411.4,41.5 412.8,40.3 414.2,38.6 415.6,36.6 417,34.3 418.5,32.4 419.9,30.2 421.3,27.5 422.7,25.1 424.1,22.2 425.6,19.7 427,17.3 428.4,16.5 429.8,17.7 431.2,19.6 432.6,22.1 434.1,25.2 435.5,28.2 436.9,31.4 438.3,34.3 439.7,36.7 441.2,39.2 442.6,41.1 444,42.9 445.4,44.5 446.8,45.9 448.2,46.6 449.7,47.4 451.1,48 452.5,48.5 453.9,48.9 455.3,49.4 456.8,49.6 458.2,49.9 459.6,50.1 461,50.3 462.4,50.3 463.8,50.3 465.3,50.5 466.7,50.6 468.1,50.6 469.5,50.7 470.9,50.7 472.3,50.6 473.8,50.6 475.2,50.5 476.6,50.4 478,50.4 479.4,50.6 480.9,50.9 482.3,51.1 483.7,51.2 485.1,51.3 486.5,51.3 487.9,51.3 489.4,51.4 490.8,51.3 492.2,51.3 493.6,51.3 495,51.2 496.5,51.1 497.9,51.1 499.3,51.2 500.7,51.3 502.1,51.4 503.5,51.5 505,51.5 506.4,51.5 507.8,51.5 509.2,51.5 V51.5 H305Z" fill="#00BA38" fill-opacity="0.33"/>
<path d="M305,51.5 306.4,51.5 307.9,51.5 309.3,51.5 310.7,51.5 312.1,51.5 313.5,51.5 315,51.5 316.4,51.5 317.8,51.5 319.2,51.5 320.6,51.5 322,51.5 323.5,51.5 324.9,51.5 326.3,51.5 327.7,51.5 329.1,51.5 330.6,51.5 332,51.5 333.4,51.5 334.8,51.5 336.2,51.5 337.6,51.5 339.1,51.5 340.5,51.4 341.9,51.2 343.3,50.9 344.7,50.7 346.1,50.6 347.6,50.7 349,50.9 350.4,51 351.8,51.1 353.2,51 354.7,50.9 356.1,51 357.5,51.1 358.9,51.1 360.3,51.1 361.7,51.1 363.2,51 364.6,51 366,51.1 367.4,51.3 368.8,51.1 370.3,51 371.7,50.9 373.1,50.8 374.5,50.5 375.9,50.3 377.3,50.3 378.8,50.4 380.2,50.4 381.6,50.3 383,50.4 384.4,50.4 385.9,50.1 387.3,50.1 388.7,50.1 390.1,49.9 391.5,49.5 392.9,49.3 394.4,49 395.8,48.6 397.2,48.4 398.6,48.2 400,48.1 401.4,47.4 402.9,47.1 404.3,46.3 405.7,45.6 407.1,44.8 408.5,43.6 410,42.4 411.4,41.4 412.8,39.6 414.2,38.1 415.6,36.6 417,35.2 418.5,32.9 419.9,30.4 421.3,27.8 422.7,24.6 424.1,22.1 425.6,19.6 427,17.6 428.4,16.7 429.8,17.8 431.2,19.6 432.6,22.3 434.1,25.6 435.5,28.6 436.9,31.6 438.3,34.4 439.7,37.1 441.2,39.4 442.6,41.3 444,43 445.4,44.2 446.8,45.5 448.2,46.9 449.7,47.6 451.1,48.3 452.5,48.9 453.9,49.4 455.3,49.8 456.8,50 458.2,50.2 459.6,50.2 461,50.3 462.4,50.4 463.8,50.7 465.3,50.7 466.7,50.6 468.1,50.7 469.5,50.7 470.9,50.8 472.3,51 473.8,51 475.2,51.1 476.6,51.2 478,51.2 479.4,51.2 480.9,51.2 482.3,51.2 483.7,51.3 485.1,51.3 486.5,51.1 487.9,51.1 489.4,51 490.8,51.1 492.2,51.3 493.6,51.3 495,51.4 496.5,51.5 497.9,51.5 499.3,51.5 500.7,51.5 502.1,51.5 503.5,51.5 505,51.5 506.4,51.5 507.8,51.5 509.2,51.5 V51.5 H305Z" fill="#619CFF" fill-opacity="0.33"/>
<path d="M327.7,51.1 329.1,51 330.6,51 332,51.2 333.4,51.3M407.1,44.8 408.5,44.2 410,43.3 411.4,42.1 412.8,40.7 414.2,38.9 415.6,36.9 417,34.8 418.5,32.8M422.7,24.7 424.1,21.8 425.6,19.2 427,18 428.4,17.6 429.8,18.8 431.2,20.9 432.6,23.4 434.1,26.2 435.5,28.9 436.9,31.5M441.2,39.6 442.6,41.7 444,43.2M482.3,50.9 483.7,50.5 485.1,50.2 486.5,50.1 487.9,50.2 489.4,50.4 490.8,50.5 492.2,50.6 493.6,50.8 495,50.9 496.5,51.1" fill="none" stroke="#F8766D" stroke-width="0.62" stroke-opacity="0.9" stroke-linejoin="round" stroke-linecap="butt"/>
<path d="M324.9,51.3 326.3,51.1 327.7,51.1 329.1,51.3M337.6,51.3 339.1,51.2 340.5,51.2 341.9,51.3 343.3,51.5 344.7,51.5 346.1,51.5 347.6,51.5 349,51.5 350.4,51.5 351.8,51.5 353.2,51.5 354.7,51.5 356.1,51.5 357.5,51.4 358.9,51.3M361.7,51.3 363.2,51.4 364.6,51.4 366,51.3M373.1,50.8 374.5,50.9 375.9,50.9 377.3,50.8 378.8,50.7 380.2,50.5 381.6,50.6 383,50.4M387.3,49.9 388.7,49.7 390.1,49.6 391.5,49.6 392.9,49.5 394.4,49.3 395.8,49.1 397.2,48.8 398.6,48.3M407.1,44.7 408.5,43.9 410,42.9 411.4,41.5 412.8,40.3 414.2,38.6 415.6,36.6 417,34.3 418.5,32.4 419.9,30.2 421.3,27.5 422.7,25.1 424.1,22.2 425.6,19.7 427,17.3 428.4,16.5M432.6,22.1 434.1,25.2 435.5,28.2 436.9,31.4 438.3,34.3 439.7,36.7 441.2,39.2M444,42.9 445.4,44.5 446.8,45.9 448.2,46.6 449.7,47.4 451.1,48 452.5,48.5 453.9,48.9 455.3,49.4 456.8,49.6 458.2,49.9 459.6,50.1M462.4,50.3 463.8,50.3 465.3,50.5M470.9,50.7 472.3,50.6 473.8,50.6 475.2,50.5 476.6,50.4 478,50.4 479.4,50.6 480.9,50.9 482.3,51.1M487.9,51.3 489.4,51.4 490.8,51.3M495,51.2 496.5,51.1 497.9,51.1 499.3,51.2 500.7,51.3" fill="none" stroke="#00BA38" stroke-width="0.62" stroke-opacity="0.9" stroke-linejoin="round" stroke-linecap="butt"/>
<path d="M305,51.5 306.4,51.5 307.9,51.5 309.3,51.5 310.7,51.5 312.1,51.5 313.5,51.5 315,51.5 316.4,51.5 317.8,51.5 319.2,51.5 320.6,51.5 322,51.5 323.5,51.5 324.9,51.5 326.3,51.5 327.7,51.5 329.1,51.5 330.6,51.5 332,51.5 333.4,51.5 334.8,51.5 336.2,51.5 337.6,51.5 339.1,51.5 340.5,51.4 341.9,51.2 343.3,50.9 344.7,50.7 346.1,50.6 347.6,50.7 349,50.9 350.4,51 351.8,51.1 353.2,51 354.7,50.9 356.1,51 357.5,51.1 358.9,51.1 360.3,51.1 361.7,51.1 363.2,51 364.6,51 366,51.1 367.4,51.3 368.8,51.1 370.3,51 371.7,50.9 373.1,50.8 374.5,50.5 375.9,50.3 377.3,50.3 378.8,50.4 380.2,50.4 381.6,50.3 383,50.4 384.4,50.4 385.9,50.1 387.3,50.1 388.7,50.1 390.1,49.9 391.5,49.5 392.9,49.3 394.4,49 395.8,48.6 397.2,48.4 398.6,48.2 400,48.1 401.4,47.4 402.9,47.1 404.3,46.3 405.7,45.6 407.1,44.8 408.5,43.6 410,42.4 411.4,41.4 412.8,39.6 414.2,38.1 415.6,36.6 417,35.2 418.5,32.9 419.9,30.4 421.3,27.8 422.7,24.6 424.1,22.1 425.6,19.6 427,17.6 428.4,16.7 429.8,17.8 431.2,19.6 432.6,22.3 434.1,25.6 435.5,28.6 436.9,31.6 438.3,34.4 439.7,37.1 441.2,39.4 442.6,41.3 444,43 445.4,44.2 446.8,45.5 448.2,46.9 449.7,47.6 451.1,48.3 452.5,48.9 453.9,49.4 455.3,49.8 456.8,50 458.2,50.2 459.6,50.2 461,50.3 462.4,50.4 463.8,50.7 465.3,50.7 466.7,50.6 468.1,50.7 469.5,50.7 470.9,50.8 472.3,51 473.8,51 475.2,51.1 476.6,51.2 478,51.2 479.4,51.2 480.9,51.2 482.3,51.2 483.7,51.3 485.1,51.3 486.5,51.1 487.9,51.1 489.4,51 490.8,51.1 492.2,51.3 493.6,51.3 495,51.4 496.5,51.5 497.9,51.5 499.3,51.5 500.7,51.5 502.1,51.5 503.5,51.5 505,51.5 506.4,51.5 507.8,51.5 509.2,51.5" fill="none" stroke="#619CFF" stroke-width="0.62" stroke-opacity="0.9" stroke-linejoin="round" stroke-linecap="butt"/>
</g>
<path d="M293.40,51.50H295.10M293.40,42.70H295.10M293.40,33.90H295.10M293.40,25.10H295.10M293.40,16.30H295.10" stroke="#555" stroke-width="0.47" fill="none"/>
<path d="M325.60,52.80V54.15M377.03,52.80V54.15M428.47,52.80V54.15M479.90,52.80V54.15" stroke="#555" stroke-width="0.59" fill="none"/>
<text transform="translate(292.04,53.88) scale(1.080,1)" font-size="5.20" text-anchor="end" fill="#4d4d4d">0</text>
<text transform="translate(292.04,45.08) scale(1.080,1)" font-size="5.20" text-anchor="end" fill="#4d4d4d">1</text>
<text transform="translate(292.04,36.28) scale(1.080,1)" font-size="5.20" text-anchor="end" fill="#4d4d4d">2</text>
<text transform="translate(292.04,27.48) scale(1.080,1)" font-size="5.20" text-anchor="end" fill="#4d4d4d">3</text>
<text transform="translate(292.04,18.68) scale(1.080,1)" font-size="5.20" text-anchor="end" fill="#4d4d4d">4</text>
<text transform="translate(325.60,59.26) scale(1.080,1)" font-size="5.20" text-anchor="middle" fill="#4d4d4d">4.0</text>
<text transform="translate(377.03,59.26) scale(1.080,1)" font-size="5.20" text-anchor="middle" fill="#4d4d4d">4.5</text>
<text transform="translate(428.47,59.26) scale(1.080,1)" font-size="5.20" text-anchor="middle" fill="#4d4d4d">5.0</text>
<text transform="translate(479.90,59.26) scale(1.080,1)" font-size="5.20" text-anchor="middle" fill="#4d4d4d">5.5</text>
<rect x="295.10" y="62.70" width="223.90" height="8.50" fill="#d9d9d9"/>
<text transform="translate(407.05,69.70) scale(1.080,1)" font-size="5.20" text-anchor="middle" fill="#1a1a1a">sigma[2]</text>
<rect x="295.10" y="71.20" width="223.90" height="39.00" fill="#ebebeb"/>
<clipPath id="c5"><rect x="295.10" y="71.20" width="223.90" height="39.00"/></clipPath>
<g clip-path="url(#c5)">
<path d="M295.1,104.03H519.0M295.1,95.08H519.0M295.1,86.12H519.0M295.1,77.18H519.0" stroke="#fff" stroke-width="0.23" stroke-opacity="0.8" fill="none"/>
<path d="M350.75,71.2V110.2M409.45,71.2V110.2M468.15,71.2V110.2" stroke="#fff" stroke-width="0.29" stroke-opacity="0.8" fill="none"/>
<path d="M295.1,108.50H519.0M295.1,99.55H519.0M295.1,90.60H519.0M295.1,81.65H519.0M295.1,72.70H519.0" stroke="#fff" stroke-width="0.47" fill="none"/>
<path d="M321.40,71.2V110.2M380.10,71.2V110.2M438.80,71.2V110.2M497.50,71.2V110.2" stroke="#fff" stroke-width="0.59" fill="none"/>
<path d="M306.1,108.5 307.6,108.5 309,108.5 310.4,108.5 311.8,108.5 313.2,108.5 314.6,108.4 316,108.5 317.5,108.5 318.9,108.4 320.3,108.4 321.7,108.4 323.1,108.5 324.5,108.5 326,108.4 327.4,108.5 328.8,108.5 330.2,108.5 331.6,108.4 333,108.3 334.4,108.2 335.9,108.1 337.3,108.1 338.7,108.1 340.1,108.1 341.5,107.9 342.9,108 344.4,108 345.8,107.9 347.2,108 348.6,107.9 350,107.9 351.4,108 352.8,107.9 354.3,107.8 355.7,107.6 357.1,107.5 358.5,107.1 359.9,106.9 361.3,107.1 362.8,107.1 364.2,107.2 365.6,107.1 367,107.1 368.4,107 369.8,106.9 371.2,106.9 372.7,106.8 374.1,106.7 375.5,106.4 376.9,106.4 378.3,106.3 379.7,105.8 381.2,105.6 382.6,105.5 384,105.1 385.4,104.6 386.8,104.3 388.2,103.9 389.6,103.3 391.1,102.7 392.5,102.1 393.9,101.3 395.3,100.4 396.7,99.6 398.1,98.5 399.5,97.4 401,96 402.4,94.2 403.8,92.3 405.2,90.5 406.6,88.2 408,85.9 409.5,83.7 410.9,81.8 412.3,80.1 413.7,78.4 415.1,76.6 416.5,74.8 417.9,74 419.4,74.6 420.8,75.9 422.2,77.8 423.6,80.4 425,82.8 426.4,85.2 427.9,87.9 429.3,90.6 430.7,93 432.1,95.3 433.5,97.5 434.9,99.5 436.3,101.2 437.8,102.5 439.2,104 440.6,105.1 442,105.7 443.4,106.1 444.8,106.7 446.3,107.1 447.7,107.5 449.1,107.6 450.5,107.6 451.9,107.7 453.3,107.8 454.7,107.9 456.2,108.1 457.6,108.1 459,108.1 460.4,108.2 461.8,108.2 463.2,108.2 464.7,108.2 466.1,108.2 467.5,108.3 468.9,108.4 470.3,108.4 471.7,108.4 473.1,108.4 474.6,108.3 476,108.2 477.4,108 478.8,107.8 480.2,107.6 481.6,107.6 483.1,107.7 484.5,107.9 485.9,107.9 487.3,108 488.7,108.2 490.1,108.4 491.5,108.4 493,108.5 494.4,108.5 495.8,108.5 497.2,108.5 498.6,108.4 500,108.2 501.5,108.2 502.9,108.2 504.3,108.1 505.7,108 507.1,108.1 508.5,108.2 509.9,108.4 V108.5 H306.1Z" fill="#F8766D" fill-opacity="0.33"/>
<path d="M306.1,108 307.6,108.1 309,108.2 310.4,108.4 311.8,108.5 313.2,108.5 314.6,108.5 316,108.5 317.5,108.5 318.9,108.5 320.3,108.5 321.7,108.5 323.1,108.2 324.5,108 326,107.8 327.4,107.5 328.8,107.3 330.2,107.2 331.6,107.4 333,107.8 334.4,108 335.9,108 337.3,107.8 338.7,107.8 340.1,108 341.5,108.1 342.9,108.1 344.4,108.1 345.8,108.2 347.2,108.1 348.6,108.2 350,108.2 351.4,108.1 352.8,107.8 354.3,107.8 355.7,107.9 357.1,107.8 358.5,107.8 359.9,107.7 361.3,107.6 362.8,107.5 364.2,107.5 365.6,107.5 367,107.4 368.4,107.2 369.8,107.1 371.2,106.8 372.7,106.7 374.1,106.5 375.5,106.3 376.9,106.1 378.3,106 379.7,105.9 381.2,105.7 382.6,105.3 384,105 385.4,104.7 386.8,104.2 388.2,103.7 389.6,103.4 391.1,102.9 392.5,102 393.9,101.3 395.3,100.6 396.7,99.6 398.1,98.7 399.5,97.7 401,96.3 402.4,94.6 403.8,92.7 405.2,90.4 406.6,88.2 408,86.2 409.5,84.2 410.9,81.4 412.3,78.5 413.7,76.5 415.1,75.2 416.5,73.9 417.9,73.7 419.4,74.5 420.8,75.7 422.2,77.3 423.6,79.4 425,82.1 426.4,84.8 427.9,87.3 429.3,89.9 430.7,92.2 432.1,94.5 433.5,97 434.9,99.1 436.3,100.7 437.8,102.4 439.2,103.8 440.6,104.7 442,105.5 443.4,106.1 444.8,106.5 446.3,106.8 447.7,107.2 449.1,107.4 450.5,107.6 451.9,107.7 453.3,107.9 454.7,108 456.2,107.9 457.6,107.9 459,107.9 460.4,108 461.8,108.1 463.2,108.3 464.7,108.4 466.1,108.4 467.5,108.3 468.9,108.3 470.3,108.4 471.7,108.4 473.1,108.4 474.6,108.4 476,108.5 477.4,108.5 478.8,108.5 480.2,108.4 481.6,108.4 483.1,108.4 484.5,108.4 485.9,108.5 487.3,108.5 488.7,108.5 490.1,108.5 491.5,108.5 493,108.5 494.4,108.5 495.8,108.5 497.2,108.5 498.6,108.5 500,108.5 501.5,108.5 502.9,108.5 504.3,108.5 505.7,108.5 507.1,108.5 508.5,108.5 509.9,108.5 V108.5 H306.1Z" fill="#00BA38" fill-opacity="0.33"/>
<path d="M306.1,108.5 307.6,108.5 309,108.5 310.4,108.5 311.8,108.5 313.2,108.5 314.6,108.5 316,108.5 317.5,108.5 318.9,108.5 320.3,108.5 321.7,108.5 323.1,108.5 324.5,108.5 326,108.5 327.4,108.5 328.8,108.5 330.2,108.5 331.6,108.5 333,108.4 334.4,108.4 335.9,108.4 337.3,108.4 338.7,108.4 340.1,108.3 341.5,108.3 342.9,108.2 344.4,108.2 345.8,108.2 347.2,108.1 348.6,108 350,107.9 351.4,107.8 352.8,107.9 354.3,107.8 355.7,107.5 357.1,107.3 358.5,107.2 359.9,107.1 361.3,106.9 362.8,106.9 364.2,106.9 365.6,106.9 367,106.9 368.4,106.9 369.8,106.9 371.2,106.9 372.7,106.8 374.1,106.6 375.5,106.7 376.9,106.4 378.3,106.1 379.7,106 381.2,105.7 382.6,105.4 384,105.1 385.4,104.8 386.8,104.2 388.2,103.7 389.6,103.1 391.1,102.5 392.5,102 393.9,101.3 395.3,100.6 396.7,99.8 398.1,98.9 399.5,97.7 401,96.4 402.4,94.7 403.8,92.7 405.2,90.9 406.6,89.1 408,86.7 409.5,84.2 410.9,82.1 412.3,80.2 413.7,78.3 415.1,76.4 416.5,75.1 417.9,74.8 419.4,75.1 420.8,75.7 422.2,77.2 423.6,79.8 425,82.4 426.4,84.8 427.9,87.2 429.3,89.5 430.7,92.1 432.1,94.7 433.5,96.9 434.9,98.8 436.3,100.8 437.8,102.4 439.2,103.4 440.6,104.3 442,105.3 443.4,106.1 444.8,106.6 446.3,107 447.7,107.1 449.1,107.4 450.5,107.7 451.9,107.8 453.3,107.8 454.7,107.8 456.2,108 457.6,108.1 459,108.2 460.4,108.2 461.8,108.2 463.2,108.2 464.7,108.2 466.1,108.2 467.5,108.1 468.9,107.9 470.3,107.8 471.7,107.7 473.1,107.7 474.6,107.8 476,107.9 477.4,108 478.8,108.2 480.2,108.4 481.6,108.4 483.1,108.3 484.5,108.2 485.9,108.1 487.3,108.2 488.7,108.3 490.1,108.4 491.5,108.5 493,108.5 494.4,108.5 495.8,108.5 497.2,108.5 498.6,108.4 500,108.2 501.5,108.1 502.9,108.1 504.3,108.2 505.7,108.4 507.1,108.5 508.5,108.5 509.9,108.5 V108.5 H306.1Z" fill="#619CFF" fill-opacity="0.33"/>
<path d="M335.9,108.1 337.3,108.1 338.7,108.1 340.1,108.1M344.4,108 345.8,107.9 347.2,108M362.8,107.1 364.2,107.2 365.6,107.1M398.1,98.5 399.5,97.4 401,96 402.4,94.2 403.8,92.3 405.2,90.5 406.6,88.2 408,85.9 409.5,83.7 410.9,81.8 412.3,80.1M415.1,76.6 416.5,74.8 417.9,74 419.4,74.6 420.8,75.9 422.2,77.8 423.6,80.4 425,82.8 426.4,85.2 427.9,87.9 429.3,90.6 430.7,93 432.1,95.3 433.5,97.5 434.9,99.5 436.3,101.2 437.8,102.5 439.2,104 440.6,105.1 442,105.7M446.3,107.1 447.7,107.5 449.1,107.6M474.6,108.3 476,108.2 477.4,108 478.8,107.8 480.2,107.6 481.6,107.6 483.1,107.7 484.5,107.9 485.9,107.9M504.3,108.1 505.7,108 507.1,108.1 508.5,108.2 509.9,108.4" fill="none" stroke="#F8766D" stroke-width="0.62" stroke-opacity="0.9" stroke-linejoin="round" stroke-linecap="butt"/>
<path d="M306.1,108 307.6,108.1 309,108.2 310.4,108.4M321.7,108.5 323.1,108.2 324.5,108 326,107.8 327.4,107.5 328.8,107.3 330.2,107.2 331.6,107.4 333,107.8 334.4,108 335.9,108 337.3,107.8 338.7,107.8 340.1,108 341.5,108.1M348.6,108.2 350,108.2 351.4,108.1 352.8,107.8 354.3,107.8 355.7,107.9 357.1,107.8 358.5,107.8 359.9,107.7 361.3,107.6 362.8,107.5 364.2,107.5 365.6,107.5 367,107.4 368.4,107.2 369.8,107.1M374.1,106.5 375.5,106.3 376.9,106.1 378.3,106M388.2,103.7 389.6,103.4 391.1,102.9 392.5,102M403.8,92.7 405.2,90.4 406.6,88.2 408,86.2 409.5,84.2 410.9,81.4 412.3,78.5 413.7,76.5 415.1,75.2 416.5,73.9 417.9,73.7 419.4,74.5 420.8,75.7 422.2,77.3 423.6,79.4 425,82.1 426.4,84.8 427.9,87.3 429.3,89.9 430.7,92.2M433.5,97 434.9,99.1 436.3,100.7 437.8,102.4 439.2,103.8 440.6,104.7 442,105.5M457.6,107.9 459,107.9 460.4,108M467.5,108.3 468.9,108.3 470.3,108.4 471.7,108.4 473.1,108.4 474.6,108.4 476,108.5 477.4,108.5 478.8,108.5 480.2,108.4M484.5,108.4 485.9,108.5 487.3,108.5 488.7,108.5M498.6,108.5 500,108.5 501.5,108.5 502.9,108.5 504.3,108.5 505.7,108.5" fill="none" stroke="#00BA38" stroke-width="0.62" stroke-opacity="0.9" stroke-linejoin="round" stroke-linecap="butt"/>
<path d="M306.1,108.5 307.6,108.5 309,108.5 310.4,108.5 311.8,108.5 313.2,108.5 314.6,108.5 316,108.5 317.5,108.5 318.9,108.5 320.3,108.5 321.7,108.5 323.1,108.5 324.5,108.5 326,108.5 327.4,108.5 328.8,108.5 330.2,108.5 331.6,108.5 333,108.4 334.4,108.4 335.9,108.4 337.3,108.4 338.7,108.4 340.1,108.3 341.5,108.3 342.9,108.2 344.4,108.2 345.8,108.2 347.2,108.1 348.6,108 350,107.9 351.4,107.8 352.8,107.9 354.3,107.8 355.7,107.5 357.1,107.3 358.5,107.2 359.9,107.1 361.3,106.9 362.8,106.9 364.2,106.9 365.6,106.9 367,106.9 368.4,106.9 369.8,106.9 371.2,106.9 372.7,106.8 374.1,106.6 375.5,106.7 376.9,106.4 378.3,106.1 379.7,106 381.2,105.7 382.6,105.4 384,105.1 385.4,104.8 386.8,104.2 388.2,103.7 389.6,103.1 391.1,102.5 392.5,102 393.9,101.3 395.3,100.6 396.7,99.8 398.1,98.9 399.5,97.7 401,96.4 402.4,94.7 403.8,92.7 405.2,90.9 406.6,89.1 408,86.7 409.5,84.2 410.9,82.1 412.3,80.2 413.7,78.3 415.1,76.4 416.5,75.1 417.9,74.8 419.4,75.1 420.8,75.7 422.2,77.2 423.6,79.8 425,82.4 426.4,84.8 427.9,87.2 429.3,89.5 430.7,92.1 432.1,94.7 433.5,96.9 434.9,98.8 436.3,100.8 437.8,102.4 439.2,103.4 440.6,104.3 442,105.3 443.4,106.1 444.8,106.6 446.3,107 447.7,107.1 449.1,107.4 450.5,107.7 451.9,107.8 453.3,107.8 454.7,107.8 456.2,108 457.6,108.1 459,108.2 460.4,108.2 461.8,108.2 463.2,108.2 464.7,108.2 466.1,108.2 467.5,108.1 468.9,107.9 470.3,107.8 471.7,107.7 473.1,107.7 474.6,107.8 476,107.9 477.4,108 478.8,108.2 480.2,108.4 481.6,108.4 483.1,108.3 484.5,108.2 485.9,108.1 487.3,108.2 488.7,108.3 490.1,108.4 491.5,108.5 493,108.5 494.4,108.5 495.8,108.5 497.2,108.5 498.6,108.4 500,108.2 501.5,108.1 502.9,108.1 504.3,108.2 505.7,108.4 507.1,108.5 508.5,108.5 509.9,108.5" fill="none" stroke="#619CFF" stroke-width="0.62" stroke-opacity="0.9" stroke-linejoin="round" stroke-linecap="butt"/>
</g>
<path d="M293.40,108.50H295.10M293.40,99.55H295.10M293.40,90.60H295.10M293.40,81.65H295.10M293.40,72.70H295.10" stroke="#555" stroke-width="0.47" fill="none"/>
<path d="M321.40,110.20V111.55M380.10,110.20V111.55M438.80,110.20V111.55M497.50,110.20V111.55" stroke="#555" stroke-width="0.59" fill="none"/>
<text transform="translate(292.04,110.88) scale(1.080,1)" font-size="5.20" text-anchor="end" fill="#4d4d4d">0</text>
<text transform="translate(292.04,101.93) scale(1.080,1)" font-size="5.20" text-anchor="end" fill="#4d4d4d">1</text>
<text transform="translate(292.04,92.98) scale(1.080,1)" font-size="5.20" text-anchor="end" fill="#4d4d4d">2</text>
<text transform="translate(292.04,84.03) scale(1.080,1)" font-size="5.20" text-anchor="end" fill="#4d4d4d">3</text>
<text transform="translate(292.04,75.08) scale(1.080,1)" font-size="5.20" text-anchor="end" fill="#4d4d4d">4</text>
<text transform="translate(321.40,117.16) scale(1.080,1)" font-size="5.20" text-anchor="middle" fill="#4d4d4d">5.0</text>
<text transform="translate(380.10,117.16) scale(1.080,1)" font-size="5.20" text-anchor="middle" fill="#4d4d4d">5.5</text>
<text transform="translate(438.80,117.16) scale(1.080,1)" font-size="5.20" text-anchor="middle" fill="#4d4d4d">6.0</text>
<text transform="translate(497.50,117.16) scale(1.080,1)" font-size="5.20" text-anchor="middle" fill="#4d4d4d">6.5</text>
<rect x="295.10" y="120.10" width="223.90" height="8.30" fill="#d9d9d9"/>
<text transform="translate(407.05,127.00) scale(1.080,1)" font-size="5.20" text-anchor="middle" fill="#1a1a1a">sigma[3]</text>
<rect x="295.10" y="128.40" width="223.90" height="38.60" fill="#ebebeb"/>
<clipPath id="c6"><rect x="295.10" y="128.40" width="223.90" height="38.60"/></clipPath>
<g clip-path="url(#c6)">
<path d="M295.1,160.78H519.0M295.1,151.55H519.0M295.1,142.32H519.0M295.1,133.08H519.0" stroke="#fff" stroke-width="0.23" stroke-opacity="0.8" fill="none"/>
<path d="M321.12,128.4V167.0M365.38,128.4V167.0M409.62,128.4V167.0M453.88,128.4V167.0M498.12,128.4V167.0" stroke="#fff" stroke-width="0.29" stroke-opacity="0.8" fill="none"/>
<path d="M295.1,165.40H519.0M295.1,156.17H519.0M295.1,146.93H519.0M295.1,137.70H519.0" stroke="#fff" stroke-width="0.47" fill="none"/>
<path d="M299.00,128.4V167.0M343.25,128.4V167.0M387.50,128.4V167.0M431.75,128.4V167.0M476.00,128.4V167.0" stroke="#fff" stroke-width="0.59" fill="none"/>
<path d="M305.2,165.4 306.6,165.4 308,165.4 309.4,165.4 310.8,165.4 312.3,165.4 313.7,165.4 315.1,165.4 316.5,165.4 317.9,165.4 319.3,165.4 320.7,165.4 322.2,165.4 323.6,165.4 325,165.4 326.4,165.4 327.8,165.4 329.2,165.4 330.6,165.4 332,165.4 333.5,165.4 334.9,165.4 336.3,165.4 337.7,165.4 339.1,165.4 340.5,165.4 341.9,165.4 343.3,165.4 344.8,165.4 346.2,165.4 347.6,165.4 349,165.4 350.4,165.4 351.8,165.4 353.2,165.3 354.6,165.1 356.1,164.9 357.5,164.9 358.9,165 360.3,165 361.7,165.1 363.1,165.2 364.5,165.2 366,165 367.4,164.7 368.8,164.5 370.2,164.4 371.6,164.3 373,164.1 374.4,163.8 375.8,163.5 377.3,162.6 378.7,161.5 380.1,159.7 381.5,156.4 382.9,152.1 384.3,146.7 385.7,140.7 387.1,135.5 388.6,132 390,134.2 391.4,138.5 392.8,144.9 394.2,150.9 395.6,155.9 397,159.2 398.4,161.3 399.9,162.5 401.3,163.2 402.7,163.6 404.1,164 405.5,164.3 406.9,164.4 408.3,164.5 409.8,164.5 411.2,164.7 412.6,164.9 414,165 415.4,165.2 416.8,165.3 418.2,165.3 419.6,165.4 421.1,165.4 422.5,165.4 423.9,165.4 425.3,165.4 426.7,165.4 428.1,165.4 429.5,165.4 430.9,165.3 432.4,165.2 433.8,165.1 435.2,165.1 436.6,165 438,165.1 439.4,165.3 440.8,165.4 442.3,165.4 443.7,165.4 445.1,165.4 446.5,165.4 447.9,165.4 449.3,165.4 450.7,165.4 452.1,165.4 453.6,165.4 455,165.4 456.4,165.4 457.8,165.4 459.2,165.4 460.6,165.4 462,165.4 463.4,165.4 464.9,165.4 466.3,165.4 467.7,165.4 469.1,165.4 470.5,165.4 471.9,165.4 473.3,165.4 474.7,165.4 476.2,165.4 477.6,165.4 479,165.4 480.4,165.4 481.8,165.4 483.2,165.4 484.6,165.4 486.1,165.4 487.5,165.4 488.9,165.4 490.3,165.4 491.7,165.4 493.1,165.4 494.5,165.4 495.9,165.4 497.4,165.4 498.8,165.4 500.2,165.4 501.6,165.4 503,165.4 504.4,165.4 505.8,165.4 507.2,165.4 508.7,165.4 510.1,165.4 V165.4 H305.2Z" fill="#F8766D" fill-opacity="0.33"/>
<path d="M305.2,165.3 306.6,165.3 308,165.4 309.4,165.4 310.8,165.4 312.3,165.3 313.7,165.3 315.1,165.2 316.5,165.1 317.9,165.1 319.3,165.1 320.7,165.1 322.2,165.1 323.6,165.2 325,165.3 326.4,165.4 327.8,165.4 329.2,165.4 330.6,165.4 332,165.4 333.5,165.4 334.9,165.4 336.3,165.4 337.7,165.4 339.1,165.4 340.5,165.4 341.9,165.4 343.3,165.4 344.8,165.4 346.2,165.4 347.6,165.4 349,165.4 350.4,165.4 351.8,165.4 353.2,165.4 354.6,165.4 356.1,165.4 357.5,165.4 358.9,165.4 360.3,165.3 361.7,165.3 363.1,165.1 364.5,165 366,164.8 367.4,164.7 368.8,164.6 370.2,164.5 371.6,164.3 373,164.1 374.4,163.7 375.8,163.1 377.3,162.6 378.7,161.4 380.1,159.5 381.5,156.3 382.9,151.6 384.3,145.9 385.7,139.9 387.1,134.9 388.6,131.8 390,133.1 391.4,137.3 392.8,144.6 394.2,150.7 395.6,155.2 397,158.5 398.4,160.7 399.9,162.3 401.3,163.3 402.7,163.8 404.1,164.2 405.5,164.5 406.9,164.7 408.3,164.8 409.8,164.9 411.2,165.1 412.6,165.3 414,165.4 415.4,165.3 416.8,165.3 418.2,165.3 419.6,165.2 421.1,165.1 422.5,165.2 423.9,165.3 425.3,165.4 426.7,165.4 428.1,165.4 429.5,165.4 430.9,165.4 432.4,165.4 433.8,165.4 435.2,165.4 436.6,165.4 438,165.4 439.4,165.4 440.8,165.4 442.3,165.4 443.7,165.4 445.1,165.4 446.5,165.4 447.9,165.4 449.3,165.4 450.7,165.4 452.1,165.4 453.6,165.4 455,165.2 456.4,165.1 457.8,165 459.2,165 460.6,165.1 462,165.2 463.4,165.3 464.9,165.4 466.3,165.4 467.7,165.4 469.1,165.4 470.5,165.4 471.9,165.4 473.3,165.4 474.7,165.4 476.2,165.4 477.6,165.4 479,165.4 480.4,165.4 481.8,165.4 483.2,165.4 484.6,165.4 486.1,165.4 487.5,165.4 488.9,165.4 490.3,165.4 491.7,165.4 493.1,165.4 494.5,165.4 495.9,165.4 497.4,165.4 498.8,165.4 500.2,165.4 501.6,165.4 503,165.4 504.4,165.4 505.8,165.4 507.2,165.4 508.7,165.4 510.1,165.4 V165.4 H305.2Z" fill="#00BA38" fill-opacity="0.33"/>
<path d="M305.2,165.4 306.6,165.4 308,165.4 309.4,165.4 310.8,165.4 312.3,165.4 313.7,165.4 315.1,165.4 316.5,165.3 317.9,165.2 319.3,165.1 320.7,165.1 322.2,165 323.6,165.1 325,165.1 326.4,165.2 327.8,165.4 329.2,165.4 330.6,165.4 332,165.4 333.5,165.4 334.9,165.4 336.3,165.4 337.7,165.4 339.1,165.4 340.5,165.4 341.9,165.4 343.3,165.4 344.8,165.4 346.2,165.4 347.6,165.4 349,165.4 350.4,165.4 351.8,165.4 353.2,165.4 354.6,165.4 356.1,165.4 357.5,165.4 358.9,165.4 360.3,165.4 361.7,165.4 363.1,165.3 364.5,165.2 366,165.2 367.4,165.1 368.8,164.9 370.2,164.6 371.6,164.6 373,164.3 374.4,163.9 375.8,163.4 377.3,162.6 378.7,161.2 380.1,159.3 381.5,156 382.9,151.6 384.3,146 385.7,140.1 387.1,134.7 388.6,131.7 390,133.5 391.4,138 392.8,145.1 394.2,151.2 395.6,155.9 397,159.2 398.4,161.2 399.9,162.4 401.3,163.2 402.7,163.8 404.1,164.1 405.5,164.2 406.9,164.5 408.3,164.8 409.8,165.1 411.2,165.1 412.6,165.2 414,165.3 415.4,165.3 416.8,165.3 418.2,165.4 419.6,165.4 421.1,165.4 422.5,165.4 423.9,165.4 425.3,165.4 426.7,165.4 428.1,165.4 429.5,165.4 430.9,165.4 432.4,165.4 433.8,165.4 435.2,165.4 436.6,165.4 438,165.2 439.4,165.1 440.8,165.1 442.3,165.1 443.7,165.3 445.1,165.4 446.5,165.4 447.9,165.4 449.3,165.4 450.7,165.4 452.1,165.4 453.6,165.4 455,165.4 456.4,165.4 457.8,165.4 459.2,165.4 460.6,165.4 462,165.3 463.4,165.2 464.9,165.1 466.3,165 467.7,165.1 469.1,165.2 470.5,165.3 471.9,165.4 473.3,165.4 474.7,165.4 476.2,165.4 477.6,165.4 479,165.4 480.4,165.3 481.8,165.1 483.2,165 484.6,164.9 486.1,165.1 487.5,165.3 488.9,165.4 490.3,165.4 491.7,165.4 493.1,165.4 494.5,165.4 495.9,165.4 497.4,165.4 498.8,165.4 500.2,165.2 501.6,165 503,165 504.4,165 505.8,164.9 507.2,164.9 508.7,165.1 510.1,165.3 V165.4 H305.2Z" fill="#619CFF" fill-opacity="0.33"/>
<path d="M317.9,165.4 319.3,165.4 320.7,165.4 322.2,165.4 323.6,165.4M353.2,165.3 354.6,165.1 356.1,164.9 357.5,164.9 358.9,165 360.3,165 361.7,165.1M381.5,156.4 382.9,152.1 384.3,146.7 385.7,140.7 387.1,135.5 388.6,132 390,134.2 391.4,138.5 392.8,144.9M406.9,164.4 408.3,164.5 409.8,164.5 411.2,164.7 412.6,164.9 414,165 415.4,165.2M432.4,165.2 433.8,165.1 435.2,165.1 436.6,165 438,165.1" fill="none" stroke="#F8766D" stroke-width="0.62" stroke-opacity="0.9" stroke-linejoin="round" stroke-linecap="butt"/>
<path d="M364.5,165 366,164.8 367.4,164.7 368.8,164.6 370.2,164.5 371.6,164.3 373,164.1 374.4,163.7 375.8,163.1 377.3,162.6M380.1,159.5 381.5,156.3 382.9,151.6M388.6,131.8 390,133.1 391.4,137.3 392.8,144.6 394.2,150.7 395.6,155.2 397,158.5 398.4,160.7 399.9,162.3M404.1,164.2 405.5,164.5 406.9,164.7M419.6,165.2 421.1,165.1 422.5,165.2M438,165.4 439.4,165.4 440.8,165.4 442.3,165.4 443.7,165.4M455,165.2 456.4,165.1 457.8,165 459.2,165 460.6,165.1 462,165.2 463.4,165.3 464.9,165.4 466.3,165.4 467.7,165.4 469.1,165.4M480.4,165.4 481.8,165.4 483.2,165.4 484.6,165.4 486.1,165.4 487.5,165.4M500.2,165.4 501.6,165.4 503,165.4 504.4,165.4 505.8,165.4 507.2,165.4 508.7,165.4 510.1,165.4" fill="none" stroke="#00BA38" stroke-width="0.62" stroke-opacity="0.9" stroke-linejoin="round" stroke-linecap="butt"/>
<path d="M305.2,165.4 306.6,165.4 308,165.4 309.4,165.4 310.8,165.4 312.3,165.4 313.7,165.4 315.1,165.4 316.5,165.3 317.9,165.2 319.3,165.1 320.7,165.1 322.2,165 323.6,165.1 325,165.1 326.4,165.2 327.8,165.4 329.2,165.4 330.6,165.4 332,165.4 333.5,165.4 334.9,165.4 336.3,165.4 337.7,165.4 339.1,165.4 340.5,165.4 341.9,165.4 343.3,165.4 344.8,165.4 346.2,165.4 347.6,165.4 349,165.4 350.4,165.4 351.8,165.4 353.2,165.4 354.6,165.4 356.1,165.4 357.5,165.4 358.9,165.4 360.3,165.4 361.7,165.4 363.1,165.3 364.5,165.2 366,165.2 367.4,165.1 368.8,164.9 370.2,164.6 371.6,164.6 373,164.3 374.4,163.9 375.8,163.4 377.3,162.6 378.7,161.2 380.1,159.3 381.5,156 382.9,151.6 384.3,146 385.7,140.1 387.1,134.7 388.6,131.7 390,133.5 391.4,138 392.8,145.1 394.2,151.2 395.6,155.9 397,159.2 398.4,161.2 399.9,162.4 401.3,163.2 402.7,163.8 404.1,164.1 405.5,164.2 406.9,164.5 408.3,164.8 409.8,165.1 411.2,165.1 412.6,165.2 414,165.3 415.4,165.3 416.8,165.3 418.2,165.4 419.6,165.4 421.1,165.4 422.5,165.4 423.9,165.4 425.3,165.4 426.7,165.4 428.1,165.4 429.5,165.4 430.9,165.4 432.4,165.4 433.8,165.4 435.2,165.4 436.6,165.4 438,165.2 439.4,165.1 440.8,165.1 442.3,165.1 443.7,165.3 445.1,165.4 446.5,165.4 447.9,165.4 449.3,165.4 450.7,165.4 452.1,165.4 453.6,165.4 455,165.4 456.4,165.4 457.8,165.4 459.2,165.4 460.6,165.4 462,165.3 463.4,165.2 464.9,165.1 466.3,165 467.7,165.1 469.1,165.2 470.5,165.3 471.9,165.4 473.3,165.4 474.7,165.4 476.2,165.4 477.6,165.4 479,165.4 480.4,165.3 481.8,165.1 483.2,165 484.6,164.9 486.1,165.1 487.5,165.3 488.9,165.4 490.3,165.4 491.7,165.4 493.1,165.4 494.5,165.4 495.9,165.4 497.4,165.4 498.8,165.4 500.2,165.2 501.6,165 503,165 504.4,165 505.8,164.9 507.2,164.9 508.7,165.1 510.1,165.3" fill="none" stroke="#619CFF" stroke-width="0.62" stroke-opacity="0.9" stroke-linejoin="round" stroke-linecap="butt"/>
</g>
<path d="M293.40,165.40H295.10M293.40,156.17H295.10M293.40,146.93H295.10M293.40,137.70H295.10" stroke="#555" stroke-width="0.47" fill="none"/>
<path d="M299.00,167.00V168.35M343.25,167.00V168.35M387.50,167.00V168.35M431.75,167.00V168.35M476.00,167.00V168.35" stroke="#555" stroke-width="0.59" fill="none"/>
<text transform="translate(292.04,167.78) scale(1.080,1)" font-size="5.20" text-anchor="end" fill="#4d4d4d">0</text>
<text transform="translate(292.04,158.55) scale(1.080,1)" font-size="5.20" text-anchor="end" fill="#4d4d4d">1</text>
<text transform="translate(292.04,149.31) scale(1.080,1)" font-size="5.20" text-anchor="end" fill="#4d4d4d">2</text>
<text transform="translate(292.04,140.08) scale(1.080,1)" font-size="5.20" text-anchor="end" fill="#4d4d4d">3</text>
<text transform="translate(299.00,174.06) scale(1.080,1)" font-size="5.20" text-anchor="middle" fill="#4d4d4d">23</text>
<text transform="translate(343.25,174.06) scale(1.080,1)" font-size="5.20" text-anchor="middle" fill="#4d4d4d">24</text>
<text transform="translate(387.50,174.06) scale(1.080,1)" font-size="5.20" text-anchor="middle" fill="#4d4d4d">25</text>
<text transform="translate(431.75,174.06) scale(1.080,1)" font-size="5.20" text-anchor="middle" fill="#4d4d4d">26</text>
<text transform="translate(476.00,174.06) scale(1.080,1)" font-size="5.20" text-anchor="middle" fill="#4d4d4d">27</text>
<text transform="translate(285.56,90.70) rotate(-90) scale(1,1.150)" font-size="5.90" text-anchor="middle" fill="#000">density</text>
<text transform="translate(407.00,180.91) scale(1.150,1)" font-size="5.90" text-anchor="middle" fill="#000">value</text>
<text transform="translate(529.40,79.71) scale(1.150,1)" font-size="5.90" text-anchor="start" fill="#000">Chain</text>
<rect x="529.30" y="82.20" width="10.60" height="8.50" fill="#f2f2f2"/>
<rect x="529.75" y="82.65" width="9.70" height="7.60" fill="#F8766D" fill-opacity="0.33" stroke="#F8766D" stroke-width="0.6"/>
<text transform="translate(545.00,88.42) scale(1.080,1)" font-size="5.51" text-anchor="middle" fill="#333">1</text>
<rect x="529.30" y="90.70" width="10.60" height="8.40" fill="#f2f2f2"/>
<rect x="529.75" y="91.15" width="9.70" height="7.50" fill="#00BA38" fill-opacity="0.33" stroke="#00BA38" stroke-width="0.6"/>
<text transform="translate(545.00,96.87) scale(1.080,1)" font-size="5.51" text-anchor="middle" fill="#333">2</text>
<rect x="529.30" y="99.10" width="10.60" height="8.50" fill="#f2f2f2"/>
<rect x="529.75" y="99.55" width="9.70" height="7.60" fill="#619CFF" fill-opacity="0.33" stroke="#619CFF" stroke-width="0.6"/>
<text transform="translate(545.00,105.32) scale(1.080,1)" font-size="5.51" text-anchor="middle" fill="#333">3</text>
<rect x="31.20" y="210.20" width="212.70" height="11.40" fill="#d9d9d9"/>
<text transform="translate(137.55,219.02) scale(0.920,1)" font-size="5.90" text-anchor="middle" fill="#1a1a1a">nu[1]</text>
<rect x="31.20" y="221.60" width="212.70" height="47.60" fill="#ebebeb"/>
<clipPath id="c7"><rect x="31.20" y="221.60" width="212.70" height="47.60"/></clipPath>
<g clip-path="url(#c7)">
<path d="M31.2,261.97H243.9M31.2,250.30H243.9M31.2,238.63H243.9M31.2,226.97H243.9" stroke="#fff" stroke-width="0.30" stroke-opacity="0.8" fill="none"/>
<path d="M63.25,221.6V269.2M124.95,221.6V269.2M186.65,221.6V269.2" stroke="#fff" stroke-width="0.26" stroke-opacity="0.8" fill="none"/>
<path d="M31.2,267.80H243.9M31.2,256.13H243.9M31.2,244.47H243.9M31.2,232.80H243.9" stroke="#fff" stroke-width="0.59" fill="none"/>
<path d="M32.40,221.6V269.2M94.10,221.6V269.2M155.80,221.6V269.2M217.50,221.6V269.2" stroke="#fff" stroke-width="0.53" fill="none"/>
<path d="M41.7,267.8 43.1,267.8 44.5,267.8 45.9,267.8 47.3,267.8 48.7,267.8 50.1,267.8 51.6,267.8 53,267.8 54.4,267.5 55.8,267.3 57.2,267.5 58.6,267.5 60,267.6 61.5,267.7 62.9,267.8 64.3,267.8 65.7,267.7 67.1,267.7 68.5,267.7 69.9,267.6 71.4,267.6 72.8,267.5 74.2,267.4 75.6,267.4 77,267.3 78.4,267.1 79.8,267 81.3,267 82.7,267.1 84.1,267 85.5,267 86.9,267 88.3,266.7 89.7,266.8 91.2,266.9 92.6,266.9 94,266.8 95.4,266.7 96.8,266.7 98.2,266.6 99.6,266.4 101,266.2 102.5,266 103.9,265.6 105.3,265.3 106.7,264.9 108.1,264.1 109.5,263.1 110.9,262.1 112.4,260.2 113.8,257.8 115.2,254.7 116.6,250.3 118,244.9 119.4,240.4 120.8,236.3 122.3,232.2 123.7,228 125.1,225.3 126.5,224.7 127.9,227.4 129.3,233 130.7,238 132.2,242.4 133.6,246.3 135,251.7 136.4,255.8 137.8,258.6 139.2,261 140.6,262.9 142.1,263.9 143.5,264.7 144.9,265.2 146.3,265.7 147.7,266.1 149.1,266.3 150.5,266.6 152,266.9 153.4,267.1 154.8,267.2 156.2,267.2 157.6,267.3 159,267.4 160.4,267.4 161.9,267.5 163.3,267.5 164.7,267.6 166.1,267.6 167.5,267.6 168.9,267.6 170.3,267.7 171.8,267.7 173.2,267.7 174.6,267.8 176,267.7 177.4,267.6 178.8,267.7 180.2,267.8 181.7,267.7 183.1,267.8 184.5,267.8 185.9,267.8 187.3,267.8 188.7,267.8 190.1,267.8 191.6,267.8 193,267.7 194.4,267.7 195.8,267.6 197.2,267.5 198.6,267.6 200,267.7 201.5,267.8 202.9,267.8 204.3,267.8 205.7,267.8 207.1,267.8 208.5,267.8 209.9,267.8 211.4,267.8 212.8,267.8 214.2,267.8 215.6,267.8 217,267.8 218.4,267.8 219.8,267.8 221.3,267.8 222.7,267.8 224.1,267.8 225.5,267.8 226.9,267.8 228.3,267.7 229.7,267.6 231.2,267.6 232.6,267.5 234,267.5 235.4,267.5 V267.8 H41.7Z" fill="#F8766D" fill-opacity="0.33"/>
<path d="M41.7,267.8 43.1,267.8 44.5,267.8 45.9,267.8 47.3,267.8 48.7,267.8 50.1,267.8 51.6,267.8 53,267.8 54.4,267.8 55.8,267.8 57.2,267.8 58.6,267.7 60,267.6 61.5,267.5 62.9,267.4 64.3,267.3 65.7,267.3 67.1,267.2 68.5,267.2 69.9,267.2 71.4,267.3 72.8,267.4 74.2,267.5 75.6,267.5 77,267.5 78.4,267.5 79.8,267.5 81.3,267.5 82.7,267.4 84.1,267.3 85.5,267.3 86.9,267.2 88.3,267.3 89.7,267.1 91.2,267 92.6,266.9 94,266.8 95.4,266.6 96.8,266.3 98.2,266.1 99.6,266.1 101,266 102.5,265.8 103.9,265.6 105.3,265.3 106.7,264.7 108.1,264 109.5,263.1 110.9,261.8 112.4,260.4 113.8,258.2 115.2,255 116.6,250.3 118,244.8 119.4,239.8 120.8,235.2 122.3,231.1 123.7,227.2 125.1,223.8 126.5,224.1 127.9,227.9 129.3,233.4 130.7,238 132.2,242.2 133.6,246.2 135,251.5 136.4,255.8 137.8,259.1 139.2,261 140.6,262.5 142.1,264 143.5,264.6 144.9,265 146.3,265.5 147.7,265.8 149.1,266 150.5,266.2 152,266.4 153.4,266.6 154.8,266.8 156.2,266.8 157.6,266.9 159,266.9 160.4,266.9 161.9,266.9 163.3,267 164.7,267.1 166.1,267.2 167.5,267.3 168.9,267.4 170.3,267.6 171.8,267.6 173.2,267.5 174.6,267.6 176,267.7 177.4,267.8 178.8,267.7 180.2,267.7 181.7,267.8 183.1,267.6 184.5,267.7 185.9,267.8 187.3,267.8 188.7,267.8 190.1,267.8 191.6,267.8 193,267.8 194.4,267.8 195.8,267.8 197.2,267.8 198.6,267.8 200,267.6 201.5,267.6 202.9,267.6 204.3,267.4 205.7,267.4 207.1,267.4 208.5,267.5 209.9,267.7 211.4,267.8 212.8,267.8 214.2,267.8 215.6,267.8 217,267.8 218.4,267.8 219.8,267.8 221.3,267.8 222.7,267.8 224.1,267.8 225.5,267.8 226.9,267.8 228.3,267.8 229.7,267.8 231.2,267.8 232.6,267.8 234,267.8 235.4,267.8 V267.8 H41.7Z" fill="#00BA38" fill-opacity="0.33"/>
<path d="M41.7,267.8 43.1,267.8 44.5,267.8 45.9,267.8 47.3,267.8 48.7,267.8 50.1,267.8 51.6,267.8 53,267.8 54.4,267.8 55.8,267.8 57.2,267.7 58.6,267.8 60,267.8 61.5,267.8 62.9,267.7 64.3,267.6 65.7,267.6 67.1,267.7 68.5,267.7 69.9,267.8 71.4,267.8 72.8,267.7 74.2,267.6 75.6,267.5 77,267.5 78.4,267.5 79.8,267.5 81.3,267.4 82.7,267.4 84.1,267.4 85.5,267.4 86.9,267.3 88.3,267.2 89.7,267.1 91.2,267 92.6,267 94,266.9 95.4,266.8 96.8,266.7 98.2,266.4 99.6,266.3 101,266.1 102.5,265.8 103.9,265.5 105.3,265.1 106.7,264.8 108.1,264.2 109.5,263.4 110.9,261.9 112.4,260.3 113.8,258.4 115.2,255.2 116.6,250.6 118,244.9 119.4,240.2 120.8,235.8 122.3,231.6 123.7,227.1 125.1,223.8 126.5,223.7 127.9,228 129.3,234.5 130.7,239.3 132.2,243.1 133.6,246.6 135,251.4 136.4,255.6 137.8,258.7 139.2,261.2 140.6,262.9 142.1,263.9 143.5,264.7 144.9,265.4 146.3,265.7 147.7,266 149.1,266.3 150.5,266.6 152,266.7 153.4,266.9 154.8,267.1 156.2,267.3 157.6,267.3 159,267.4 160.4,267.5 161.9,267.5 163.3,267.5 164.7,267.4 166.1,267.5 167.5,267.5 168.9,267.5 170.3,267.4 171.8,267.3 173.2,267.3 174.6,267.1 176,266.9 177.4,266.9 178.8,266.9 180.2,267 181.7,267.2 183.1,267.5 184.5,267.7 185.9,267.8 187.3,267.8 188.7,267.8 190.1,267.8 191.6,267.8 193,267.8 194.4,267.8 195.8,267.8 197.2,267.8 198.6,267.8 200,267.8 201.5,267.8 202.9,267.8 204.3,267.8 205.7,267.8 207.1,267.8 208.5,267.8 209.9,267.8 211.4,267.8 212.8,267.8 214.2,267.8 215.6,267.8 217,267.8 218.4,267.6 219.8,267.5 221.3,267.3 222.7,267.2 224.1,267.3 225.5,267.3 226.9,267.4 228.3,267.4 229.7,267.4 231.2,267.3 232.6,267.2 234,267.2 235.4,267.2 V267.8 H41.7Z" fill="#619CFF" fill-opacity="0.33"/>
<path d="M53,267.8 54.4,267.5 55.8,267.3 57.2,267.5M77,267.3 78.4,267.1 79.8,267 81.3,267 82.7,267.1 84.1,267 85.5,267 86.9,267 88.3,266.7 89.7,266.8 91.2,266.9M112.4,260.2 113.8,257.8 115.2,254.7 116.6,250.3M119.4,240.4 120.8,236.3 122.3,232.2 123.7,228 125.1,225.3 126.5,224.7 127.9,227.4 129.3,233 130.7,238M195.8,267.6 197.2,267.5 198.6,267.6M231.2,267.6 232.6,267.5 234,267.5 235.4,267.5" fill="none" stroke="#F8766D" stroke-width="0.66" stroke-opacity="0.9" stroke-linejoin="round" stroke-linecap="butt"/>
<path d="M60,267.6 61.5,267.5 62.9,267.4 64.3,267.3 65.7,267.3 67.1,267.2 68.5,267.2 69.9,267.2 71.4,267.3 72.8,267.4 74.2,267.5M95.4,266.6 96.8,266.3 98.2,266.1 99.6,266.1M108.1,264 109.5,263.1 110.9,261.8M115.2,255 116.6,250.3 118,244.8 119.4,239.8 120.8,235.2 122.3,231.1 123.7,227.2 125.1,223.8 126.5,224.1 127.9,227.9 129.3,233.4 130.7,238 132.2,242.2 133.6,246.2 135,251.5 136.4,255.8 137.8,259.1 139.2,261 140.6,262.5 142.1,264 143.5,264.6 144.9,265 146.3,265.5 147.7,265.8 149.1,266 150.5,266.2 152,266.4 153.4,266.6 154.8,266.8 156.2,266.8 157.6,266.9 159,266.9 160.4,266.9 161.9,266.9 163.3,267 164.7,267.1 166.1,267.2 167.5,267.3M170.3,267.6 171.8,267.6 173.2,267.5 174.6,267.6 176,267.7 177.4,267.8 178.8,267.7 180.2,267.7 181.7,267.8 183.1,267.6M202.9,267.6 204.3,267.4 205.7,267.4 207.1,267.4 208.5,267.5 209.9,267.7M218.4,267.8 219.8,267.8 221.3,267.8 222.7,267.8 224.1,267.8 225.5,267.8 226.9,267.8 228.3,267.8 229.7,267.8 231.2,267.8 232.6,267.8 234,267.8 235.4,267.8" fill="none" stroke="#00BA38" stroke-width="0.66" stroke-opacity="0.9" stroke-linejoin="round" stroke-linecap="butt"/>
<path d="M41.7,267.8 43.1,267.8 44.5,267.8 45.9,267.8 47.3,267.8 48.7,267.8 50.1,267.8 51.6,267.8 53,267.8 54.4,267.8 55.8,267.8 57.2,267.7 58.6,267.8 60,267.8 61.5,267.8 62.9,267.7 64.3,267.6 65.7,267.6 67.1,267.7 68.5,267.7 69.9,267.8 71.4,267.8 72.8,267.7 74.2,267.6 75.6,267.5 77,267.5 78.4,267.5 79.8,267.5 81.3,267.4 82.7,267.4 84.1,267.4 85.5,267.4 86.9,267.3 88.3,267.2 89.7,267.1 91.2,267 92.6,267 94,266.9 95.4,266.8 96.8,266.7 98.2,266.4 99.6,266.3 101,266.1 102.5,265.8 103.9,265.5 105.3,265.1 106.7,264.8 108.1,264.2 109.5,263.4 110.9,261.9 112.4,260.3 113.8,258.4 115.2,255.2 116.6,250.6 118,244.9 119.4,240.2 120.8,235.8 122.3,231.6 123.7,227.1 125.1,223.8 126.5,223.7 127.9,228 129.3,234.5 130.7,239.3 132.2,243.1 133.6,246.6 135,251.4 136.4,255.6 137.8,258.7 139.2,261.2 140.6,262.9 142.1,263.9 143.5,264.7 144.9,265.4 146.3,265.7 147.7,266 149.1,266.3 150.5,266.6 152,266.7 153.4,266.9 154.8,267.1 156.2,267.3 157.6,267.3 159,267.4 160.4,267.5 161.9,267.5 163.3,267.5 164.7,267.4 166.1,267.5 167.5,267.5 168.9,267.5 170.3,267.4 171.8,267.3 173.2,267.3 174.6,267.1 176,266.9 177.4,266.9 178.8,266.9 180.2,267 181.7,267.2 183.1,267.5 184.5,267.7 185.9,267.8 187.3,267.8 188.7,267.8 190.1,267.8 191.6,267.8 193,267.8 194.4,267.8 195.8,267.8 197.2,267.8 198.6,267.8 200,267.8 201.5,267.8 202.9,267.8 204.3,267.8 205.7,267.8 207.1,267.8 208.5,267.8 209.9,267.8 211.4,267.8 212.8,267.8 214.2,267.8 215.6,267.8 217,267.8 218.4,267.6 219.8,267.5 221.3,267.3 222.7,267.2 224.1,267.3 225.5,267.3 226.9,267.4 228.3,267.4 229.7,267.4 231.2,267.3 232.6,267.2 234,267.2 235.4,267.2" fill="none" stroke="#619CFF" stroke-width="0.66" stroke-opacity="0.9" stroke-linejoin="round" stroke-linecap="butt"/>
</g>
<path d="M29.67,267.80H31.20M29.67,256.13H31.20M29.67,244.47H31.20M29.67,232.80H31.20" stroke="#555" stroke-width="0.59" fill="none"/>
<path d="M32.40,269.20V270.92M94.10,269.20V270.92M155.80,269.20V270.92M217.50,269.20V270.92" stroke="#555" stroke-width="0.53" fill="none"/>
<text transform="translate(28.45,270.50) scale(0.920,1)" font-size="5.90" text-anchor="end" fill="#4d4d4d">0</text>
<text transform="translate(28.45,258.84) scale(0.920,1)" font-size="5.90" text-anchor="end" fill="#4d4d4d">1</text>
<text transform="translate(28.45,247.17) scale(0.920,1)" font-size="5.90" text-anchor="end" fill="#4d4d4d">2</text>
<text transform="translate(28.45,235.50) scale(0.920,1)" font-size="5.90" text-anchor="end" fill="#4d4d4d">3</text>
<text transform="translate(32.40,277.91) scale(0.920,1)" font-size="5.90" text-anchor="middle" fill="#4d4d4d">11</text>
<text transform="translate(94.10,277.91) scale(0.920,1)" font-size="5.90" text-anchor="middle" fill="#4d4d4d">12</text>
<text transform="translate(155.80,277.91) scale(0.920,1)" font-size="5.90" text-anchor="middle" fill="#4d4d4d">13</text>
<text transform="translate(217.50,277.91) scale(0.920,1)" font-size="5.90" text-anchor="middle" fill="#4d4d4d">14</text>
<rect x="31.20" y="282.00" width="212.70" height="11.60" fill="#d9d9d9"/>
<text transform="translate(137.55,290.92) scale(0.920,1)" font-size="5.90" text-anchor="middle" fill="#1a1a1a">nu[2]</text>
<rect x="31.20" y="293.60" width="212.70" height="47.50" fill="#ebebeb"/>
<clipPath id="c8"><rect x="31.20" y="293.60" width="212.70" height="47.50"/></clipPath>
<g clip-path="url(#c8)">
<path d="M31.2,333.27H243.9M31.2,320.60H243.9M31.2,307.93H243.9M31.2,295.27H243.9" stroke="#fff" stroke-width="0.30" stroke-opacity="0.8" fill="none"/>
<path d="M43.05,293.6V341.1M77.75,293.6V341.1M112.45,293.6V341.1M147.15,293.6V341.1M181.85,293.6V341.1M216.55,293.6V341.1" stroke="#fff" stroke-width="0.26" stroke-opacity="0.8" fill="none"/>
<path d="M31.2,339.60H243.9M31.2,326.93H243.9M31.2,314.27H243.9M31.2,301.60H243.9" stroke="#fff" stroke-width="0.59" fill="none"/>
<path d="M60.40,293.6V341.1M95.10,293.6V341.1M129.80,293.6V341.1M164.50,293.6V341.1M199.20,293.6V341.1M233.90,293.6V341.1" stroke="#fff" stroke-width="0.53" fill="none"/>
<path d="M41.7,339.6 43.1,339.6 44.5,339.6 45.9,339.6 47.3,339.6 48.7,339.6 50.1,339.6 51.6,339.6 53,339.5 54.4,339.5 55.8,339.5 57.2,339.4 58.6,339.4 60,339.5 61.5,339.5 62.9,339.5 64.3,339.3 65.7,339.2 67.1,339.2 68.5,339.1 69.9,339 71.3,338.8 72.8,338.7 74.2,338.6 75.6,338.6 77,338.6 78.4,338.7 79.8,338.6 81.2,338.7 82.7,338.5 84.1,338.3 85.5,338.2 86.9,338 88.3,337.9 89.7,337.7 91.1,337.5 92.5,336.9 94,336.2 95.4,335.7 96.8,334.9 98.2,333.3 99.6,331.7 101,329.8 102.4,327.2 103.9,324.1 105.3,320.2 106.7,315.4 108.1,309.7 109.5,303.7 110.9,298.7 112.3,296.9 113.8,296.4 115.2,296.1 116.6,296 118,298.1 119.4,302.4 120.8,307.8 122.2,313.2 123.6,318.2 125.1,322.4 126.5,325.9 127.9,328.9 129.3,331.2 130.7,332.6 132.1,333.9 133.5,335.3 135,336.2 136.4,336.9 137.8,337.5 139.2,337.7 140.6,338 142,338.4 143.4,338.5 144.8,338.5 146.3,338.6 147.7,338.7 149.1,338.7 150.5,338.6 151.9,338.7 153.3,338.8 154.7,339 156.2,339.2 157.6,339.2 159,339.3 160.4,339.3 161.8,339.2 163.2,339.3 164.6,339.4 166.1,339.5 167.5,339.5 168.9,339.5 170.3,339.3 171.7,339.1 173.1,338.9 174.5,338.7 175.9,338.7 177.4,338.9 178.8,339 180.2,339.1 181.6,339.2 183,339.4 184.4,339.5 185.8,339.5 187.3,339.5 188.7,339.5 190.1,339.6 191.5,339.6 192.9,339.6 194.3,339.6 195.7,339.6 197.1,339.6 198.6,339.6 200,339.6 201.4,339.5 202.8,339.5 204.2,339.5 205.6,339.5 207,339.4 208.5,339.3 209.9,339.2 211.3,339.1 212.7,339.2 214.1,339.3 215.5,339.4 216.9,339.5 218.4,339.4 219.8,339.5 221.2,339.6 222.6,339.6 224,339.6 225.4,339.6 226.8,339.6 228.2,339.6 229.7,339.6 231.1,339.6 232.5,339.6 233.9,339.5 V339.6 H41.7Z" fill="#F8766D" fill-opacity="0.33"/>
<path d="M41.7,339.6 43.1,339.6 44.5,339.5 45.9,339.6 47.3,339.6 48.7,339.6 50.1,339.6 51.6,339.6 53,339.5 54.4,339.3 55.8,339.3 57.2,339.2 58.6,339 60,338.9 61.5,338.9 62.9,339 64.3,339.1 65.7,339.1 67.1,339 68.5,338.8 69.9,338.7 71.3,338.3 72.8,338.2 74.2,338.3 75.6,338.4 77,338.3 78.4,338.2 79.8,338.3 81.2,338.2 82.7,338.2 84.1,338.1 85.5,338.1 86.9,338 88.3,337.7 89.7,337.4 91.1,337.2 92.5,336.9 94,336.4 95.4,335.7 96.8,334.9 98.2,333.5 99.6,331.7 101,329.6 102.4,326.7 103.9,323.6 105.3,320.1 106.7,315.3 108.1,309.5 109.5,303 110.9,298.2 112.3,296.3 113.8,295.6 115.2,295 116.6,293.8 118,296.7 119.4,301.7 120.8,307.1 122.2,312.7 123.6,317.8 125.1,322.3 126.5,326 127.9,328.9 129.3,331.1 130.7,333.1 132.1,334.5 133.5,335.5 135,336.3 136.4,336.9 137.8,337.3 139.2,337.7 140.6,338.1 142,338.3 143.4,338.5 144.8,338.7 146.3,338.7 147.7,338.7 149.1,338.9 150.5,339 151.9,339 153.3,339.1 154.7,339.2 156.2,339.1 157.6,339.2 159,339.2 160.4,339.2 161.8,339.3 163.2,339.3 164.6,339.3 166.1,339.3 167.5,339.3 168.9,339.3 170.3,339.4 171.7,339.3 173.1,339.3 174.5,339.4 175.9,339.3 177.4,339.3 178.8,339.1 180.2,338.9 181.6,338.8 183,338.8 184.4,339 185.8,339.2 187.3,339.3 188.7,339.4 190.1,339.5 191.5,339.5 192.9,339.5 194.3,339.5 195.7,339.6 197.1,339.5 198.6,339.5 200,339.6 201.4,339.6 202.8,339.6 204.2,339.6 205.6,339.6 207,339.6 208.5,339.6 209.9,339.6 211.3,339.6 212.7,339.6 214.1,339.6 215.5,339.6 216.9,339.6 218.4,339.6 219.8,339.6 221.2,339.6 222.6,339.6 224,339.6 225.4,339.6 226.8,339.6 228.2,339.6 229.7,339.6 231.1,339.6 232.5,339.6 233.9,339.6 V339.6 H41.7Z" fill="#00BA38" fill-opacity="0.33"/>
<path d="M41.7,339.6 43.1,339.6 44.5,339.6 45.9,339.6 47.3,339.6 48.7,339.6 50.1,339.6 51.6,339.6 53,339.6 54.4,339.6 55.8,339.5 57.2,339.5 58.6,339.6 60,339.5 61.5,339.5 62.9,339.3 64.3,339.3 65.7,339.3 67.1,339.2 68.5,339.1 69.9,339.1 71.3,339.2 72.8,339.2 74.2,339 75.6,338.9 77,338.8 78.4,338.8 79.8,338.7 81.2,338.5 82.7,338.5 84.1,338.5 85.5,338.2 86.9,338.1 88.3,337.9 89.7,337.6 91.1,337.1 92.5,336.6 94,336 95.4,335.2 96.8,334.2 98.2,333.2 99.6,331.6 101,329.7 102.4,327.4 103.9,324.1 105.3,319.7 106.7,315 108.1,309.4 109.5,303.1 110.9,297.5 112.3,295.5 113.8,295 115.2,295.3 116.6,296.3 118,298.6 119.4,302.7 120.8,307.5 122.2,312.4 123.6,317.5 125.1,322.1 126.5,326 127.9,328.9 129.3,331 130.7,333.1 132.1,334.4 133.5,335.4 135,336.2 136.4,337 137.8,337.4 139.2,337.7 140.6,338 142,338.1 143.4,338.3 144.8,338.5 146.3,338.7 147.7,338.8 149.1,338.9 150.5,339 151.9,339 153.3,339 154.7,338.9 156.2,339 157.6,338.9 159,338.8 160.4,338.8 161.8,338.9 163.2,338.9 164.6,339 166.1,339 167.5,339.2 168.9,339.2 170.3,339.3 171.7,339.4 173.1,339.4 174.5,339.3 175.9,339.4 177.4,339.3 178.8,339.4 180.2,339.4 181.6,339.2 183,339 184.4,338.8 185.8,338.8 187.3,339 188.7,339.3 190.1,339.3 191.5,339.4 192.9,339.5 194.3,339.5 195.7,339.6 197.1,339.6 198.6,339.6 200,339.5 201.4,339.4 202.8,339.4 204.2,339.3 205.6,339.1 207,339.1 208.5,339.1 209.9,339.1 211.3,339.1 212.7,339 214.1,339.2 215.5,339.3 216.9,339.4 218.4,339.5 219.8,339.4 221.2,339.4 222.6,339.4 224,339.6 225.4,339.6 226.8,339.6 228.2,339.6 229.7,339.6 231.1,339.6 232.5,339.6 233.9,339.6 V339.6 H41.7Z" fill="#619CFF" fill-opacity="0.33"/>
<path d="M69.9,339 71.3,338.8 72.8,338.7 74.2,338.6 75.6,338.6M89.7,337.7 91.1,337.5 92.5,336.9M108.1,309.7 109.5,303.7 110.9,298.7 112.3,296.9 113.8,296.4 115.2,296.1 116.6,296 118,298.1 119.4,302.4 120.8,307.8 122.2,313.2 123.6,318.2 125.1,322.4M129.3,331.2 130.7,332.6 132.1,333.9 133.5,335.3M149.1,338.7 150.5,338.6 151.9,338.7 153.3,338.8M171.7,339.1 173.1,338.9 174.5,338.7 175.9,338.7 177.4,338.9 178.8,339M181.6,339.2 183,339.4 184.4,339.5 185.8,339.5 187.3,339.5" fill="none" stroke="#F8766D" stroke-width="0.66" stroke-opacity="0.9" stroke-linejoin="round" stroke-linecap="butt"/>
<path d="M53,339.5 54.4,339.3 55.8,339.3 57.2,339.2 58.6,339 60,338.9 61.5,338.9 62.9,339 64.3,339.1M67.1,339 68.5,338.8 69.9,338.7 71.3,338.3 72.8,338.2 74.2,338.3 75.6,338.4 77,338.3 78.4,338.2 79.8,338.3 81.2,338.2 82.7,338.2 84.1,338.1 85.5,338.1M91.1,337.2 92.5,336.9 94,336.4 95.4,335.7 96.8,334.9 98.2,333.5 99.6,331.7 101,329.6 102.4,326.7 103.9,323.6 105.3,320.1 106.7,315.3 108.1,309.5 109.5,303 110.9,298.2 112.3,296.3 113.8,295.6 115.2,295 116.6,293.8 118,296.7 119.4,301.7 120.8,307.1 122.2,312.7 123.6,317.8 125.1,322.3M153.3,339.1 154.7,339.2 156.2,339.1 157.6,339.2 159,339.2 160.4,339.2 161.8,339.3 163.2,339.3 164.6,339.3 166.1,339.3 167.5,339.3M177.4,339.3 178.8,339.1 180.2,338.9 181.6,338.8 183,338.8 184.4,339 185.8,339.2 187.3,339.3 188.7,339.4M202.8,339.6 204.2,339.6 205.6,339.6 207,339.6 208.5,339.6 209.9,339.6 211.3,339.6 212.7,339.6 214.1,339.6 215.5,339.6 216.9,339.6" fill="none" stroke="#00BA38" stroke-width="0.66" stroke-opacity="0.9" stroke-linejoin="round" stroke-linecap="butt"/>
<path d="M41.7,339.6 43.1,339.6 44.5,339.6 45.9,339.6 47.3,339.6 48.7,339.6 50.1,339.6 51.6,339.6 53,339.6 54.4,339.6 55.8,339.5 57.2,339.5 58.6,339.6 60,339.5 61.5,339.5 62.9,339.3 64.3,339.3 65.7,339.3 67.1,339.2 68.5,339.1 69.9,339.1 71.3,339.2 72.8,339.2 74.2,339 75.6,338.9 77,338.8 78.4,338.8 79.8,338.7 81.2,338.5 82.7,338.5 84.1,338.5 85.5,338.2 86.9,338.1 88.3,337.9 89.7,337.6 91.1,337.1 92.5,336.6 94,336 95.4,335.2 96.8,334.2 98.2,333.2 99.6,331.6 101,329.7 102.4,327.4 103.9,324.1 105.3,319.7 106.7,315 108.1,309.4 109.5,303.1 110.9,297.5 112.3,295.5 113.8,295 115.2,295.3 116.6,296.3 118,298.6 119.4,302.7 120.8,307.5 122.2,312.4 123.6,317.5 125.1,322.1 126.5,326 127.9,328.9 129.3,331 130.7,333.1 132.1,334.4 133.5,335.4 135,336.2 136.4,337 137.8,337.4 139.2,337.7 140.6,338 142,338.1 143.4,338.3 144.8,338.5 146.3,338.7 147.7,338.8 149.1,338.9 150.5,339 151.9,339 153.3,339 154.7,338.9 156.2,339 157.6,338.9 159,338.8 160.4,338.8 161.8,338.9 163.2,338.9 164.6,339 166.1,339 167.5,339.2 168.9,339.2 170.3,339.3 171.7,339.4 173.1,339.4 174.5,339.3 175.9,339.4 177.4,339.3 178.8,339.4 180.2,339.4 181.6,339.2 183,339 184.4,338.8 185.8,338.8 187.3,339 188.7,339.3 190.1,339.3 191.5,339.4 192.9,339.5 194.3,339.5 195.7,339.6 197.1,339.6 198.6,339.6 200,339.5 201.4,339.4 202.8,339.4 204.2,339.3 205.6,339.1 207,339.1 208.5,339.1 209.9,339.1 211.3,339.1 212.7,339 214.1,339.2 215.5,339.3 216.9,339.4 218.4,339.5 219.8,339.4 221.2,339.4 222.6,339.4 224,339.6 225.4,339.6 226.8,339.6 228.2,339.6 229.7,339.6 231.1,339.6 232.5,339.6 233.9,339.6" fill="none" stroke="#619CFF" stroke-width="0.66" stroke-opacity="0.9" stroke-linejoin="round" stroke-linecap="butt"/>
</g>
<path d="M29.67,339.60H31.20M29.67,326.93H31.20M29.67,314.27H31.20M29.67,301.60H31.20" stroke="#555" stroke-width="0.59" fill="none"/>
<path d="M60.40,341.10V342.82M95.10,341.10V342.82M129.80,341.10V342.82M164.50,341.10V342.82M199.20,341.10V342.82M233.90,341.10V342.82" stroke="#555" stroke-width="0.53" fill="none"/>
<text transform="translate(28.45,342.30) scale(0.920,1)" font-size="5.90" text-anchor="end" fill="#4d4d4d">0</text>
<text transform="translate(28.45,329.64) scale(0.920,1)" font-size="5.90" text-anchor="end" fill="#4d4d4d">1</text>
<text transform="translate(28.45,316.97) scale(0.920,1)" font-size="5.90" text-anchor="end" fill="#4d4d4d">2</text>
<text transform="translate(28.45,304.30) scale(0.920,1)" font-size="5.90" text-anchor="end" fill="#4d4d4d">3</text>
<text transform="translate(60.40,349.31) scale(0.920,1)" font-size="5.90" text-anchor="middle" fill="#4d4d4d">10.0</text>
<text transform="translate(95.10,349.31) scale(0.920,1)" font-size="5.90" text-anchor="middle" fill="#4d4d4d">10.5</text>
<text transform="translate(129.80,349.31) scale(0.920,1)" font-size="5.90" text-anchor="middle" fill="#4d4d4d">11.0</text>
<text transform="translate(164.50,349.31) scale(0.920,1)" font-size="5.90" text-anchor="middle" fill="#4d4d4d">11.5</text>
<text transform="translate(199.20,349.31) scale(0.920,1)" font-size="5.90" text-anchor="middle" fill="#4d4d4d">12.0</text>
<text transform="translate(233.90,349.31) scale(0.920,1)" font-size="5.90" text-anchor="middle" fill="#4d4d4d">12.5</text>
<rect x="31.20" y="354.00" width="212.70" height="11.80" fill="#d9d9d9"/>
<text transform="translate(137.55,363.02) scale(0.920,1)" font-size="5.90" text-anchor="middle" fill="#1a1a1a">nu[3]</text>
<rect x="31.20" y="365.80" width="212.70" height="47.70" fill="#ebebeb"/>
<clipPath id="c9"><rect x="31.20" y="365.80" width="212.70" height="47.70"/></clipPath>
<g clip-path="url(#c9)">
<path d="M31.2,405.42H243.9M31.2,393.25H243.9M31.2,381.08H243.9M31.2,368.92H243.9" stroke="#fff" stroke-width="0.30" stroke-opacity="0.8" fill="none"/>
<path d="M84.98,365.8V413.5M146.95,365.8V413.5M208.92,365.8V413.5" stroke="#fff" stroke-width="0.26" stroke-opacity="0.8" fill="none"/>
<path d="M31.2,411.50H243.9M31.2,399.33H243.9M31.2,387.17H243.9M31.2,375.00H243.9" stroke="#fff" stroke-width="0.59" fill="none"/>
<path d="M54.00,365.8V413.5M115.97,365.8V413.5M177.93,365.8V413.5M239.90,365.8V413.5" stroke="#fff" stroke-width="0.53" fill="none"/>
<path d="M41.6,411.5 43,411.5 44.4,411.5 45.8,411.5 47.3,411.5 48.7,411.5 50.1,411.5 51.5,411.5 52.9,411.5 54.3,411.3 55.7,411.1 57.1,411.2 58.5,411.2 60,411.3 61.4,411.4 62.8,411.5 64.2,411.5 65.6,411.4 67,411.5 68.4,411.5 69.8,411.4 71.2,411.2 72.7,411.1 74.1,411 75.5,410.7 76.9,410.5 78.3,410.5 79.7,410.6 81.1,410.5 82.5,410.5 83.9,410.7 85.4,410.8 86.8,410.8 88.2,410.8 89.6,410.7 91,410.5 92.4,410.2 93.8,409.8 95.2,409.5 96.6,409.1 98.1,408.4 99.5,407.6 100.9,406.6 102.3,405.4 103.7,403.5 105.1,401.4 106.5,399.3 107.9,396.3 109.3,392 110.8,387.1 112.2,381.8 113.6,376.8 115,372.3 116.4,369.1 117.8,367.2 119.2,369.5 120.6,373.5 122,379.1 123.5,384.7 124.9,390 126.3,395.1 127.7,398.9 129.1,401.9 130.5,404.2 131.9,405.9 133.3,407.1 134.7,407.8 136.2,408.6 137.6,409.2 139,409.4 140.4,409.7 141.8,410 143.2,410.2 144.6,410.4 146,410.5 147.4,410.7 148.9,410.7 150.3,410.6 151.7,410.8 153.1,410.8 154.5,411 155.9,411.1 157.3,411.2 158.7,411.2 160.1,411.2 161.6,411.3 163,411.3 164.4,411.4 165.8,411.4 167.2,411.4 168.6,411.3 170,411.4 171.4,411.3 172.8,411.4 174.3,411.4 175.7,411.4 177.1,411.4 178.5,411.4 179.9,411.2 181.3,411.2 182.7,411.3 184.1,411.3 185.6,411.3 187,411.3 188.4,411.4 189.8,411.4 191.2,411.5 192.6,411.5 194,411.5 195.4,411.5 196.8,411.5 198.3,411.5 199.7,411.5 201.1,411.5 202.5,411.5 203.9,411.5 205.3,411.5 206.7,411.5 208.1,411.5 209.5,411.5 211,411.5 212.4,411.5 213.8,411.5 215.2,411.5 216.6,411.5 218,411.4 219.4,411.5 220.8,411.5 222.2,411.5 223.7,411.2 225.1,411.1 226.5,411.1 227.9,411.1 229.3,411.1 230.7,411.3 232.1,411.4 233.5,411.5 234.9,411.5 V411.5 H41.6Z" fill="#F8766D" fill-opacity="0.33"/>
<path d="M41.6,411.5 43,411.5 44.4,411.5 45.8,411.5 47.3,411.5 48.7,411.5 50.1,411.5 51.5,411.5 52.9,411.5 54.3,411.5 55.7,411.5 57.1,411.4 58.5,411.5 60,411.5 61.4,411.5 62.8,411.5 64.2,411.5 65.6,411.5 67,411.5 68.4,411.4 69.8,411.5 71.2,411.5 72.7,411.3 74.1,411.3 75.5,411.4 76.9,411.3 78.3,411.2 79.7,411 81.1,410.9 82.5,410.7 83.9,410.5 85.4,410.3 86.8,410.2 88.2,410.1 89.6,410.1 91,410.1 92.4,410.1 93.8,409.9 95.2,409.7 96.6,409.2 98.1,408.7 99.5,407.8 100.9,406.5 102.3,404.9 103.7,403.5 105.1,401.4 106.5,398.9 107.9,396.1 109.3,392.2 110.8,387.8 112.2,383 113.6,377.7 115,372.9 116.4,368.9 117.8,367.9 119.2,370.2 120.6,374.5 122,380.3 123.5,385.5 124.9,390.9 126.3,395.8 127.7,399.7 129.1,402.4 130.5,404.1 131.9,405.7 133.3,406.9 134.7,407.7 136.2,408.3 137.6,409 139,409.5 140.4,409.6 141.8,409.7 143.2,410 144.6,410.1 146,410.3 147.4,410.4 148.9,410.6 150.3,410.8 151.7,410.9 153.1,410.9 154.5,411 155.9,411 157.3,411.1 158.7,411.1 160.1,411.2 161.6,411.4 163,411.4 164.4,411.3 165.8,411.3 167.2,411.4 168.6,411.5 170,411.4 171.4,411.5 172.8,411.5 174.3,411.5 175.7,411.5 177.1,411.4 178.5,411.3 179.9,411.4 181.3,411.3 182.7,411.1 184.1,411.2 185.6,411.3 187,411.3 188.4,411.2 189.8,411 191.2,410.9 192.6,410.9 194,411.1 195.4,411.3 196.8,411.4 198.3,411.5 199.7,411.5 201.1,411.5 202.5,411.5 203.9,411.5 205.3,411.5 206.7,411.5 208.1,411.5 209.5,411.5 211,411.5 212.4,411.5 213.8,411.5 215.2,411.5 216.6,411.5 218,411.5 219.4,411.4 220.8,411.2 222.2,411 223.7,411.1 225.1,411.1 226.5,411.1 227.9,411.2 229.3,411.3 230.7,411.4 232.1,411.5 233.5,411.5 234.9,411.5 V411.5 H41.6Z" fill="#00BA38" fill-opacity="0.33"/>
<path d="M41.6,411.4 43,411.5 44.4,411.5 45.8,411.5 47.3,411.5 48.7,411.5 50.1,411.5 51.5,411.5 52.9,411.5 54.3,411.5 55.7,411.5 57.1,411.5 58.5,411.5 60,411.5 61.4,411.5 62.8,411.5 64.2,411.5 65.6,411.4 67,411.4 68.4,411.4 69.8,411.4 71.2,411.4 72.7,411.4 74.1,411.3 75.5,411.2 76.9,411.1 78.3,410.8 79.7,410.7 81.1,410.8 82.5,411 83.9,411 85.4,410.9 86.8,410.9 88.2,410.8 89.6,410.6 91,410.4 92.4,410.2 93.8,410 95.2,409.6 96.6,409.2 98.1,408.9 99.5,408.1 100.9,406.6 102.3,404.8 103.7,403.1 105.1,401.8 106.5,399.5 107.9,396.1 109.3,392 110.8,387.2 112.2,381.6 113.6,376.6 115,372.6 116.4,369.2 117.8,368.2 119.2,370.4 120.6,374.3 122,379.3 123.5,384.7 124.9,390.1 126.3,395.2 127.7,398.7 129.1,401.5 130.5,403.6 131.9,405.3 133.3,406.6 134.7,407.7 136.2,408.5 137.6,409 139,409.5 140.4,409.9 141.8,410 143.2,410.1 144.6,410.2 146,410.2 147.4,410.3 148.9,410.4 150.3,410.6 151.7,410.7 153.1,410.8 154.5,410.9 155.9,411 157.3,411 158.7,411.1 160.1,411 161.6,410.8 163,410.8 164.4,410.9 165.8,411 167.2,411.1 168.6,411.3 170,411.5 171.4,411.4 172.8,411.4 174.3,411.3 175.7,411.2 177.1,411 178.5,411 179.9,411.1 181.3,411.3 182.7,411.4 184.1,411.4 185.6,411.5 187,411.5 188.4,411.5 189.8,411.5 191.2,411.5 192.6,411.5 194,411.5 195.4,411.5 196.8,411.5 198.3,411.5 199.7,411.5 201.1,411.5 202.5,411.5 203.9,411.5 205.3,411.5 206.7,411.5 208.1,411.5 209.5,411.5 211,411.4 212.4,411.4 213.8,411.3 215.2,411.1 216.6,411 218,411.2 219.4,411.2 220.8,411.3 222.2,411.4 223.7,411.5 225.1,411.5 226.5,411.5 227.9,411.5 229.3,411.5 230.7,411.5 232.1,411.5 233.5,411.5 234.9,411.5 V411.5 H41.6Z" fill="#619CFF" fill-opacity="0.33"/>
<path d="M54.3,411.3 55.7,411.1 57.1,411.2 58.5,411.2 60,411.3M72.7,411.1 74.1,411 75.5,410.7 76.9,410.5 78.3,410.5 79.7,410.6 81.1,410.5 82.5,410.5M96.6,409.1 98.1,408.4 99.5,407.6 100.9,406.6 102.3,405.4 103.7,403.5M113.6,376.8 115,372.3 116.4,369.1 117.8,367.2 119.2,369.5 120.6,373.5 122,379.1M127.7,398.9 129.1,401.9 130.5,404.2M146,410.5 147.4,410.7 148.9,410.7" fill="none" stroke="#F8766D" stroke-width="0.66" stroke-opacity="0.9" stroke-linejoin="round" stroke-linecap="butt"/>
<path d="M76.9,411.3 78.3,411.2 79.7,411 81.1,410.9 82.5,410.7 83.9,410.5 85.4,410.3 86.8,410.2 88.2,410.1 89.6,410.1 91,410.1 92.4,410.1M98.1,408.7 99.5,407.8 100.9,406.5 102.3,404.9 103.7,403.5 105.1,401.4 106.5,398.9 107.9,396.1 109.3,392.2 110.8,387.8 112.2,383 113.6,377.7 115,372.9 116.4,368.9 117.8,367.9 119.2,370.2 120.6,374.5 122,380.3 123.5,385.5 124.9,390.9 126.3,395.8 127.7,399.7 129.1,402.4 130.5,404.1 131.9,405.7 133.3,406.9 134.7,407.7M139,409.5 140.4,409.6 141.8,409.7 143.2,410M160.1,411.2 161.6,411.4 163,411.4 164.4,411.3 165.8,411.3 167.2,411.4 168.6,411.5M174.3,411.5 175.7,411.5 177.1,411.4 178.5,411.3 179.9,411.4 181.3,411.3 182.7,411.1 184.1,411.2M187,411.3 188.4,411.2 189.8,411 191.2,410.9 192.6,410.9 194,411.1 195.4,411.3M213.8,411.5 215.2,411.5 216.6,411.5 218,411.5 219.4,411.4 220.8,411.2 222.2,411 223.7,411.1 225.1,411.1 226.5,411.1 227.9,411.2 229.3,411.3" fill="none" stroke="#00BA38" stroke-width="0.66" stroke-opacity="0.9" stroke-linejoin="round" stroke-linecap="butt"/>
<path d="M41.6,411.4 43,411.5 44.4,411.5 45.8,411.5 47.3,411.5 48.7,411.5 50.1,411.5 51.5,411.5 52.9,411.5 54.3,411.5 55.7,411.5 57.1,411.5 58.5,411.5 60,411.5 61.4,411.5 62.8,411.5 64.2,411.5 65.6,411.4 67,411.4 68.4,411.4 69.8,411.4 71.2,411.4 72.7,411.4 74.1,411.3 75.5,411.2 76.9,411.1 78.3,410.8 79.7,410.7 81.1,410.8 82.5,411 83.9,411 85.4,410.9 86.8,410.9 88.2,410.8 89.6,410.6 91,410.4 92.4,410.2 93.8,410 95.2,409.6 96.6,409.2 98.1,408.9 99.5,408.1 100.9,406.6 102.3,404.8 103.7,403.1 105.1,401.8 106.5,399.5 107.9,396.1 109.3,392 110.8,387.2 112.2,381.6 113.6,376.6 115,372.6 116.4,369.2 117.8,368.2 119.2,370.4 120.6,374.3 122,379.3 123.5,384.7 124.9,390.1 126.3,395.2 127.7,398.7 129.1,401.5 130.5,403.6 131.9,405.3 133.3,406.6 134.7,407.7 136.2,408.5 137.6,409 139,409.5 140.4,409.9 141.8,410 143.2,410.1 144.6,410.2 146,410.2 147.4,410.3 148.9,410.4 150.3,410.6 151.7,410.7 153.1,410.8 154.5,410.9 155.9,411 157.3,411 158.7,411.1 160.1,411 161.6,410.8 163,410.8 164.4,410.9 165.8,411 167.2,411.1 168.6,411.3 170,411.5 171.4,411.4 172.8,411.4 174.3,411.3 175.7,411.2 177.1,411 178.5,411 179.9,411.1 181.3,411.3 182.7,411.4 184.1,411.4 185.6,411.5 187,411.5 188.4,411.5 189.8,411.5 191.2,411.5 192.6,411.5 194,411.5 195.4,411.5 196.8,411.5 198.3,411.5 199.7,411.5 201.1,411.5 202.5,411.5 203.9,411.5 205.3,411.5 206.7,411.5 208.1,411.5 209.5,411.5 211,411.4 212.4,411.4 213.8,411.3 215.2,411.1 216.6,411 218,411.2 219.4,411.2 220.8,411.3 222.2,411.4 223.7,411.5 225.1,411.5 226.5,411.5 227.9,411.5 229.3,411.5 230.7,411.5 232.1,411.5 233.5,411.5 234.9,411.5" fill="none" stroke="#619CFF" stroke-width="0.66" stroke-opacity="0.9" stroke-linejoin="round" stroke-linecap="butt"/>
</g>
<path d="M29.67,411.50H31.20M29.67,399.33H31.20M29.67,387.17H31.20M29.67,375.00H31.20" stroke="#555" stroke-width="0.59" fill="none"/>
<path d="M54.00,413.50V415.22M115.97,413.50V415.22M177.93,413.50V415.22M239.90,413.50V415.22" stroke="#555" stroke-width="0.53" fill="none"/>
<text transform="translate(28.45,414.20) scale(0.920,1)" font-size="5.90" text-anchor="end" fill="#4d4d4d">0</text>
<text transform="translate(28.45,402.04) scale(0.920,1)" font-size="5.90" text-anchor="end" fill="#4d4d4d">1</text>
<text transform="translate(28.45,389.87) scale(0.920,1)" font-size="5.90" text-anchor="end" fill="#4d4d4d">2</text>
<text transform="translate(28.45,377.70) scale(0.920,1)" font-size="5.90" text-anchor="end" fill="#4d4d4d">3</text>
<text transform="translate(54.00,422.41) scale(0.920,1)" font-size="5.90" text-anchor="middle" fill="#4d4d4d">13</text>
<text transform="translate(115.97,422.41) scale(0.920,1)" font-size="5.90" text-anchor="middle" fill="#4d4d4d">14</text>
<text transform="translate(177.93,422.41) scale(0.920,1)" font-size="5.90" text-anchor="middle" fill="#4d4d4d">15</text>
<text transform="translate(239.90,422.41) scale(0.920,1)" font-size="5.90" text-anchor="middle" fill="#4d4d4d">16</text>
<text transform="translate(22.66,317.40) rotate(-90) scale(1,0.900)" font-size="7.10" text-anchor="middle" fill="#000">density</text>
<text transform="translate(138.00,431.54) scale(0.900,1)" font-size="7.10" text-anchor="middle" fill="#000">value</text>
<text transform="translate(254.00,303.14) scale(0.900,1)" font-size="7.10" text-anchor="start" fill="#000">Chain</text>
<rect x="254.30" y="306.20" width="9.60" height="10.80" fill="#f2f2f2"/>
<rect x="254.75" y="306.65" width="8.70" height="9.90" fill="#F8766D" fill-opacity="0.33" stroke="#F8766D" stroke-width="0.6"/>
<text transform="translate(268.40,313.84) scale(0.920,1)" font-size="6.25" text-anchor="middle" fill="#333">1</text>
<rect x="254.30" y="317.00" width="9.60" height="10.70" fill="#f2f2f2"/>
<rect x="254.75" y="317.45" width="8.70" height="9.80" fill="#00BA38" fill-opacity="0.33" stroke="#00BA38" stroke-width="0.6"/>
<text transform="translate(268.40,324.59) scale(0.920,1)" font-size="6.25" text-anchor="middle" fill="#333">2</text>
<rect x="254.30" y="327.70" width="9.60" height="10.90" fill="#f2f2f2"/>
<rect x="254.75" y="328.15" width="8.70" height="10.00" fill="#619CFF" fill-opacity="0.33" stroke="#619CFF" stroke-width="0.6"/>
<text transform="translate(268.40,335.39) scale(0.920,1)" font-size="6.25" text-anchor="middle" fill="#333">3</text>
<rect x="291.50" y="211.00" width="214.90" height="11.30" fill="#d9d9d9"/>
<text transform="translate(398.95,219.66) scale(0.960,1)" font-size="5.70" text-anchor="middle" fill="#1a1a1a">phi1[1]</text>
<rect x="291.50" y="222.30" width="214.90" height="84.30" fill="#ebebeb"/>
<clipPath id="c10"><rect x="291.50" y="222.30" width="214.90" height="84.30"/></clipPath>
<g clip-path="url(#c10)">
<path d="M291.5,291.90H506.4M291.5,268.90H506.4M291.5,245.90H506.4M291.5,222.90H506.4" stroke="#fff" stroke-width="0.29" stroke-opacity="0.8" fill="none"/>
<path d="M332.06,222.3V306.6M372.79,222.3V306.6M413.51,222.3V306.6M454.24,222.3V306.6M494.96,222.3V306.6" stroke="#fff" stroke-width="0.28" stroke-opacity="0.8" fill="none"/>
<path d="M291.5,303.40H506.4M291.5,280.40H506.4M291.5,257.40H506.4M291.5,234.40H506.4" stroke="#fff" stroke-width="0.58" fill="none"/>
<path d="M311.70,222.3V306.6M352.42,222.3V306.6M393.15,222.3V306.6M433.88,222.3V306.6M474.60,222.3V306.6" stroke="#fff" stroke-width="0.55" fill="none"/>
<path d="M301.5,303.1 302.9,303 304.4,303.1 305.8,303.2 307.2,303.3 308.6,303.3 310,303.2 311.4,303 312.9,302.9 314.3,302.9 315.7,302.9 317.1,302.9 318.5,303 319.9,303 321.4,303 322.8,303 324.2,302.9 325.6,302.7 327,302.5 328.4,302.3 329.8,302.1 331.3,301.8 332.7,301.4 334.1,301 335.5,300.5 336.9,299.9 338.3,299.3 339.8,298.6 341.2,297.9 342.6,297.1 344,296.2 345.4,295.1 346.8,294 348.3,292.8 349.7,291.4 351.1,289.8 352.5,288 353.9,285.9 355.3,283.8 356.8,281.8 358.2,280 359.6,278.2 361,276.3 362.4,274.4 363.8,272.5 365.3,270.5 366.7,268.5 368.1,266.4 369.5,264.5 370.9,262.5 372.3,260.6 373.8,258.4 375.2,255.9 376.6,253.2 378,250.4 379.4,247.5 380.8,244.8 382.3,242.3 383.7,240 385.1,237.9 386.5,236 387.9,234.2 389.3,232.5 390.8,230.9 392.2,229.5 393.6,228.4 395,227.5 396.4,227 397.8,226.8 399.3,226.9 400.7,226.8 402.1,226.8 403.5,227.1 404.9,228 406.3,229.6 407.8,231.6 409.2,233.7 410.6,235.9 412,238.2 413.4,240.4 414.8,242.7 416.3,245.1 417.7,247.6 419.1,250.3 420.5,253.4 421.9,256.6 423.3,259.6 424.8,262.3 426.2,264.9 427.6,267.3 429,269.6 430.4,271.9 431.8,274.2 433.3,276.4 434.7,278.7 436.1,280.9 437.5,283 438.9,285.1 440.3,287.1 441.8,289.1 443.2,290.8 444.6,292.2 446,293.4 447.4,294.5 448.8,295.5 450.3,296.4 451.7,297.2 453.1,298 454.5,298.8 455.9,299.4 457.3,300 458.8,300.5 460.2,301 461.6,301.4 463,301.7 464.4,301.9 465.8,302.1 467.3,302.3 468.7,302.5 470.1,302.6 471.5,302.7 472.9,302.8 474.3,302.8 475.8,302.8 477.2,302.7 478.6,302.7 480,302.6 481.4,302.6 482.8,302.7 484.3,302.7 485.7,302.8 487.1,303 488.5,303.1 489.9,303.2 491.3,303.2 492.7,303.1 494.2,303 495.6,303.1 497,303.2 V303.4 H301.5Z" fill="#F8766D" fill-opacity="0.33"/>
<path d="M301.5,302.9 302.9,302.9 304.4,303 305.8,303.1 307.2,303.2 308.6,303.2 310,303.2 311.4,303.1 312.9,303 314.3,303 315.7,302.9 317.1,302.9 318.5,302.9 319.9,303 321.4,303 322.8,303 324.2,302.9 325.6,302.7 327,302.5 328.4,302.3 329.8,301.9 331.3,301.5 332.7,301.1 334.1,300.8 335.5,300.5 336.9,300.1 338.3,299.6 339.8,298.9 341.2,298.1 342.6,297.3 344,296.3 345.4,295.3 346.8,294.2 348.3,293 349.7,291.6 351.1,290.2 352.5,288.6 353.9,286.8 355.3,284.8 356.8,282.8 358.2,280.7 359.6,278.4 361,276.2 362.4,273.9 363.8,271.7 365.3,269.6 366.7,267.5 368.1,265.5 369.5,263.6 370.9,261.8 372.3,260 373.8,258 375.2,255.6 376.6,253 378,250.3 379.4,247.6 380.8,244.9 382.3,242.4 383.7,240.2 385.1,238.1 386.5,236.1 387.9,234.3 389.3,232.5 390.8,230.8 392.2,229.3 393.6,228.2 395,227.3 396.4,226.9 397.8,227 399.3,227.3 400.7,227.6 402.1,227.9 403.5,228.5 404.9,229.4 406.3,230.7 407.8,232.2 409.2,234 410.6,235.9 412,238.1 413.4,240.5 414.8,242.8 416.3,245.3 417.7,248 419.1,251 420.5,254.2 421.9,257.6 423.3,260.7 424.8,263.5 426.2,266.1 427.6,268.5 429,270.8 430.4,272.9 431.8,275.1 433.3,277.3 434.7,279.4 436.1,281.6 437.5,283.7 438.9,285.8 440.3,287.8 441.8,289.7 443.2,291.4 444.6,292.7 446,293.9 447.4,294.9 448.8,295.9 450.3,296.7 451.7,297.5 453.1,298.2 454.5,298.8 455.9,299.4 457.3,299.9 458.8,300.4 460.2,300.9 461.6,301.3 463,301.6 464.4,301.8 465.8,302 467.3,302.1 468.7,302.3 470.1,302.5 471.5,302.6 472.9,302.8 474.3,303 475.8,303.1 477.2,303.1 478.6,303 480,303 481.4,303.1 482.8,303.2 484.3,303.4 485.7,303.4 487.1,303.4 488.5,303.4 489.9,303.4 491.3,303.4 492.7,303.4 494.2,303.4 495.6,303.4 497,303.4 V303.4 H301.5Z" fill="#00BA38" fill-opacity="0.33"/>
<path d="M301.5,303.1 302.9,303.2 304.4,303.3 305.8,303.3 307.2,303.3 308.6,303.2 310,303.1 311.4,303.1 312.9,303.1 314.3,303.1 315.7,303.2 317.1,303.2 318.5,303.3 319.9,303.3 321.4,303.2 322.8,303.2 324.2,303 325.6,302.9 327,302.7 328.4,302.5 329.8,302.3 331.3,302 332.7,301.7 334.1,301.4 335.5,301 336.9,300.4 338.3,299.8 339.8,299.2 341.2,298.4 342.6,297.5 344,296.6 345.4,295.6 346.8,294.5 348.3,293.3 349.7,292 351.1,290.6 352.5,289 353.9,287.3 355.3,285.5 356.8,283.6 358.2,281.6 359.6,279.6 361,277.5 362.4,275.4 363.8,273.4 365.3,271.4 366.7,269.4 368.1,267.4 369.5,265.5 370.9,263.6 372.3,261.6 373.8,259.5 375.2,257 376.6,254.3 378,251.5 379.4,248.7 380.8,245.9 382.3,243.4 383.7,241.1 385.1,238.9 386.5,237 387.9,235.1 389.3,233.4 390.8,231.7 392.2,230.4 393.6,229.2 395,228.3 396.4,227.9 397.8,227.9 399.3,228.2 400.7,228.6 402.1,229.2 403.5,229.9 404.9,231.1 406.3,232.6 407.8,234.3 409.2,236.1 410.6,238.2 412,240.4 413.4,242.7 414.8,244.9 416.3,247.2 417.7,249.8 419.1,252.7 420.5,255.9 421.9,259.3 423.3,262.4 424.8,265.1 426.2,267.6 427.6,269.9 429,272.2 430.4,274.3 431.8,276.5 433.3,278.6 434.7,280.7 436.1,282.7 437.5,284.6 438.9,286.5 440.3,288.3 441.8,290 443.2,291.6 444.6,292.8 446,293.9 447.4,294.9 448.8,295.8 450.3,296.7 451.7,297.5 453.1,298.2 454.5,298.9 455.9,299.4 457.3,299.9 458.8,300.3 460.2,300.8 461.6,301.1 463,301.4 464.4,301.6 465.8,301.8 467.3,302 468.7,302.3 470.1,302.6 471.5,302.9 472.9,303 474.3,303.1 475.8,303.1 477.2,303.1 478.6,303.1 480,303.1 481.4,303.1 482.8,303.2 484.3,303.2 485.7,303.3 487.1,303.3 488.5,303.3 489.9,303.3 491.3,303.4 492.7,303.4 494.2,303.4 495.6,303.4 497,303.4 V303.4 H301.5Z" fill="#619CFF" fill-opacity="0.33"/>
<path d="M331.3,301.8 332.7,301.4 334.1,301M336.9,299.9 338.3,299.3 339.8,298.6 341.2,297.9M349.7,291.4 351.1,289.8 352.5,288 353.9,285.9 355.3,283.8 356.8,281.8 358.2,280 359.6,278.2 361,276.3 362.4,274.4 363.8,272.5 365.3,270.5 366.7,268.5 368.1,266.4 369.5,264.5 370.9,262.5 372.3,260.6 373.8,258.4 375.2,255.9 376.6,253.2M397.8,226.8 399.3,226.9 400.7,226.8 402.1,226.8 403.5,227.1 404.9,228 406.3,229.6 407.8,231.6 409.2,233.7 410.6,235.9M416.3,245.1 417.7,247.6 419.1,250.3 420.5,253.4 421.9,256.6 423.3,259.6 424.8,262.3 426.2,264.9 427.6,267.3 429,269.6 430.4,271.9 431.8,274.2 433.3,276.4 434.7,278.7 436.1,280.9 437.5,283 438.9,285.1 440.3,287.1 441.8,289.1 443.2,290.8 444.6,292.2 446,293.4 447.4,294.5 448.8,295.5 450.3,296.4 451.7,297.2 453.1,298M474.3,302.8 475.8,302.8 477.2,302.7 478.6,302.7 480,302.6 481.4,302.6 482.8,302.7 484.3,302.7 485.7,302.8 487.1,303 488.5,303.1M491.3,303.2 492.7,303.1 494.2,303 495.6,303.1 497,303.2" fill="none" stroke="#F8766D" stroke-width="0.67" stroke-opacity="0.9" stroke-linejoin="round" stroke-linecap="butt"/>
<path d="M301.5,302.9 302.9,302.9 304.4,303 305.8,303.1M314.3,303 315.7,302.9 317.1,302.9 318.5,302.9 319.9,303 321.4,303M328.4,302.3 329.8,301.9 331.3,301.5 332.7,301.1 334.1,300.8 335.5,300.5 336.9,300.1 338.3,299.6 339.8,298.9 341.2,298.1 342.6,297.3 344,296.3 345.4,295.3 346.8,294.2 348.3,293 349.7,291.6 351.1,290.2 352.5,288.6 353.9,286.8 355.3,284.8 356.8,282.8 358.2,280.7 359.6,278.4 361,276.2 362.4,273.9 363.8,271.7 365.3,269.6 366.7,267.5 368.1,265.5 369.5,263.6 370.9,261.8 372.3,260 373.8,258 375.2,255.6 376.6,253 378,250.3 379.4,247.6 380.8,244.9 382.3,242.4 383.7,240.2 385.1,238.1 386.5,236.1 387.9,234.3 389.3,232.5 390.8,230.8 392.2,229.3 393.6,228.2 395,227.3 396.4,226.9 397.8,227 399.3,227.3 400.7,227.6 402.1,227.9 403.5,228.5 404.9,229.4 406.3,230.7 407.8,232.2 409.2,234 410.6,235.9 412,238.1 413.4,240.5 414.8,242.8 416.3,245.3 417.7,248 419.1,251 420.5,254.2 421.9,257.6 423.3,260.7 424.8,263.5 426.2,266.1 427.6,268.5 429,270.8 430.4,272.9 431.8,275.1 433.3,277.3 434.7,279.4 436.1,281.6 437.5,283.7 438.9,285.8 440.3,287.8 441.8,289.7 443.2,291.4M470.1,302.5 471.5,302.6 472.9,302.8" fill="none" stroke="#00BA38" stroke-width="0.67" stroke-opacity="0.9" stroke-linejoin="round" stroke-linecap="butt"/>
<path d="M301.5,303.1 302.9,303.2 304.4,303.3 305.8,303.3 307.2,303.3 308.6,303.2 310,303.1 311.4,303.1 312.9,303.1 314.3,303.1 315.7,303.2 317.1,303.2 318.5,303.3 319.9,303.3 321.4,303.2 322.8,303.2 324.2,303 325.6,302.9 327,302.7 328.4,302.5 329.8,302.3 331.3,302 332.7,301.7 334.1,301.4 335.5,301 336.9,300.4 338.3,299.8 339.8,299.2 341.2,298.4 342.6,297.5 344,296.6 345.4,295.6 346.8,294.5 348.3,293.3 349.7,292 351.1,290.6 352.5,289 353.9,287.3 355.3,285.5 356.8,283.6 358.2,281.6 359.6,279.6 361,277.5 362.4,275.4 363.8,273.4 365.3,271.4 366.7,269.4 368.1,267.4 369.5,265.5 370.9,263.6 372.3,261.6 373.8,259.5 375.2,257 376.6,254.3 378,251.5 379.4,248.7 380.8,245.9 382.3,243.4 383.7,241.1 385.1,238.9 386.5,237 387.9,235.1 389.3,233.4 390.8,231.7 392.2,230.4 393.6,229.2 395,228.3 396.4,227.9 397.8,227.9 399.3,228.2 400.7,228.6 402.1,229.2 403.5,229.9 404.9,231.1 406.3,232.6 407.8,234.3 409.2,236.1 410.6,238.2 412,240.4 413.4,242.7 414.8,244.9 416.3,247.2 417.7,249.8 419.1,252.7 420.5,255.9 421.9,259.3 423.3,262.4 424.8,265.1 426.2,267.6 427.6,269.9 429,272.2 430.4,274.3 431.8,276.5 433.3,278.6 434.7,280.7 436.1,282.7 437.5,284.6 438.9,286.5 440.3,288.3 441.8,290 443.2,291.6 444.6,292.8 446,293.9 447.4,294.9 448.8,295.8 450.3,296.7 451.7,297.5 453.1,298.2 454.5,298.9 455.9,299.4 457.3,299.9 458.8,300.3 460.2,300.8 461.6,301.1 463,301.4 464.4,301.6 465.8,301.8 467.3,302 468.7,302.3 470.1,302.6 471.5,302.9 472.9,303 474.3,303.1 475.8,303.1 477.2,303.1 478.6,303.1 480,303.1 481.4,303.1 482.8,303.2 484.3,303.2 485.7,303.3 487.1,303.3 488.5,303.3 489.9,303.3 491.3,303.4 492.7,303.4 494.2,303.4 495.6,303.4 497,303.4" fill="none" stroke="#619CFF" stroke-width="0.67" stroke-opacity="0.9" stroke-linejoin="round" stroke-linecap="butt"/>
</g>
<path d="M289.91,303.40H291.50M289.91,280.40H291.50M289.91,257.40H291.50M289.91,234.40H291.50" stroke="#555" stroke-width="0.58" fill="none"/>
<path d="M311.70,306.60V308.29M352.42,306.60V308.29M393.15,306.60V308.29M433.88,306.60V308.29M474.60,306.60V308.29" stroke="#555" stroke-width="0.55" fill="none"/>
<text transform="translate(288.63,306.01) scale(0.960,1)" font-size="5.70" text-anchor="end" fill="#4d4d4d">0</text>
<text transform="translate(288.63,283.01) scale(0.960,1)" font-size="5.70" text-anchor="end" fill="#4d4d4d">2</text>
<text transform="translate(288.63,260.01) scale(0.960,1)" font-size="5.70" text-anchor="end" fill="#4d4d4d">4</text>
<text transform="translate(288.63,237.01) scale(0.960,1)" font-size="5.70" text-anchor="end" fill="#4d4d4d">6</text>
<text transform="translate(311.70,315.84) scale(0.960,1)" font-size="5.70" text-anchor="middle" fill="#4d4d4d">-0.5</text>
<text transform="translate(352.42,315.84) scale(0.960,1)" font-size="5.70" text-anchor="middle" fill="#4d4d4d">-0.4</text>
<text transform="translate(393.15,315.84) scale(0.960,1)" font-size="5.70" text-anchor="middle" fill="#4d4d4d">-0.3</text>
<text transform="translate(433.88,315.84) scale(0.960,1)" font-size="5.70" text-anchor="middle" fill="#4d4d4d">-0.2</text>
<text transform="translate(474.60,315.84) scale(0.960,1)" font-size="5.70" text-anchor="middle" fill="#4d4d4d">-0.1</text>
<rect x="291.50" y="320.00" width="214.90" height="11.60" fill="#d9d9d9"/>
<text transform="translate(398.95,328.81) scale(0.960,1)" font-size="5.70" text-anchor="middle" fill="#1a1a1a">phi2[1]</text>
<rect x="291.50" y="331.60" width="214.90" height="83.90" fill="#ebebeb"/>
<clipPath id="c11"><rect x="291.50" y="331.60" width="214.90" height="83.90"/></clipPath>
<g clip-path="url(#c11)">
<path d="M291.5,404.38H506.4M291.5,388.94H506.4M291.5,373.50H506.4M291.5,358.06H506.4M291.5,342.62H506.4" stroke="#fff" stroke-width="0.29" stroke-opacity="0.8" fill="none"/>
<path d="M291.85,331.6V415.5M352.95,331.6V415.5M414.05,331.6V415.5M475.15,331.6V415.5" stroke="#fff" stroke-width="0.28" stroke-opacity="0.8" fill="none"/>
<path d="M291.5,412.10H506.4M291.5,396.66H506.4M291.5,381.22H506.4M291.5,365.78H506.4M291.5,350.34H506.4M291.5,334.90H506.4" stroke="#fff" stroke-width="0.58" fill="none"/>
<path d="M322.40,331.6V415.5M383.50,331.6V415.5M444.60,331.6V415.5M505.70,331.6V415.5" stroke="#fff" stroke-width="0.55" fill="none"/>
<path d="M301.6,412.1 303,412.1 304.5,412.1 305.9,412 307.3,411.8 308.7,411.6 310.1,411.3 311.5,411.2 312.9,411.3 314.4,411.4 315.8,411.4 317.2,411.5 318.6,411.6 320,411.7 321.4,411.7 322.8,411.8 324.3,411.8 325.7,411.9 327.1,411.9 328.5,411.9 329.9,411.9 331.3,411.9 332.7,411.8 334.2,411.7 335.6,411.6 337,411.4 338.4,411.1 339.8,410.8 341.2,410.5 342.6,410.2 344.1,409.8 345.5,409.5 346.9,409.1 348.3,408.7 349.7,408.3 351.1,407.8 352.6,407.3 354,406.6 355.4,405.8 356.8,404.8 358.2,403.6 359.6,402.2 361,400.8 362.5,399.4 363.9,397.9 365.3,396.3 366.7,394.6 368.1,392.8 369.5,390.8 370.9,388.7 372.4,386.3 373.8,383.7 375.2,380.7 376.6,377.3 378,373.8 379.4,370.5 380.8,367.4 382.3,364.6 383.7,361.9 385.1,359.3 386.5,356.9 387.9,354.5 389.3,352.1 390.7,349.8 392.2,347.5 393.6,345.3 395,343.1 396.4,340.9 397.8,338.9 399.2,337.2 400.6,336 402.1,335.2 403.5,334.6 404.9,334.3 406.3,334.1 407.7,334 409.1,334 410.6,334.1 412,334.9 413.4,336.5 414.8,338.6 416.2,340.6 417.6,342.2 419,343.6 420.5,344.9 421.9,346.3 423.3,347.8 424.7,349.5 426.1,351.3 427.5,353.3 428.9,355.6 430.4,358 431.8,360.4 433.2,363 434.6,365.6 436,368.5 437.4,371.6 438.8,374.7 440.3,377.4 441.7,379.9 443.1,382.4 444.5,384.7 445.9,387.1 447.3,389.5 448.7,391.7 450.2,393.6 451.6,395.4 453,396.9 454.4,398.3 455.8,399.6 457.2,400.8 458.6,401.9 460.1,402.9 461.5,403.9 462.9,404.7 464.3,405.5 465.7,406.2 467.1,406.8 468.5,407.3 470,407.7 471.4,408.1 472.8,408.5 474.2,408.9 475.6,409.4 477,409.7 478.5,409.9 479.9,410 481.3,410.1 482.7,410.3 484.1,410.5 485.5,410.9 486.9,411.2 488.4,411.5 489.8,411.7 491.2,411.9 492.6,412 494,412.1 495.4,412.1 496.8,412.1 V412.1 H301.6Z" fill="#F8766D" fill-opacity="0.33"/>
<path d="M301.6,412 303,411.9 304.5,411.8 305.9,411.9 307.3,411.9 308.7,411.9 310.1,411.9 311.5,411.9 312.9,411.9 314.4,411.9 315.8,411.9 317.2,412 318.6,412 320,412 321.4,412 322.8,412 324.3,411.9 325.7,411.8 327.1,411.7 328.5,411.6 329.9,411.4 331.3,411.4 332.7,411.3 334.2,411.3 335.6,411.3 337,411.2 338.4,411 339.8,410.8 341.2,410.6 342.6,410.4 344.1,410.1 345.5,409.8 346.9,409.4 348.3,409.1 349.7,408.6 351.1,408.1 352.6,407.5 354,406.8 355.4,405.9 356.8,404.8 358.2,403.5 359.6,402.1 361,400.7 362.5,399.3 363.9,397.9 365.3,396.4 366.7,394.7 368.1,392.9 369.5,391 370.9,388.8 372.4,386.4 373.8,383.8 375.2,380.9 376.6,377.5 378,374.2 379.4,371.1 380.8,368.3 382.3,365.6 383.7,363.2 385.1,360.8 386.5,358.5 387.9,356.2 389.3,353.8 390.7,351.3 392.2,348.8 393.6,346.3 395,343.7 396.4,341.1 397.8,338.7 399.2,336.9 400.6,335.9 402.1,335.3 403.5,335.1 404.9,335 406.3,335.1 407.7,335.3 409.1,335.7 410.6,336.1 412,336.8 413.4,338 414.8,339.4 416.2,340.7 417.6,341.7 419,342.7 420.5,343.7 421.9,344.8 423.3,346.1 424.7,347.6 426.1,349.4 427.5,351.7 428.9,354.4 430.4,357.2 431.8,359.9 433.2,362.7 434.6,365.5 436,368.5 437.4,371.8 438.8,374.9 440.3,377.7 441.7,380.2 443.1,382.6 444.5,384.8 445.9,387 447.3,389.1 448.7,391.1 450.2,392.9 451.6,394.6 453,396.2 454.4,397.6 455.8,399 457.2,400.3 458.6,401.6 460.1,402.8 461.5,403.9 462.9,404.9 464.3,405.8 465.7,406.5 467.1,407.1 468.5,407.7 470,408.2 471.4,408.7 472.8,409.2 474.2,409.6 475.6,410 477,410.3 478.5,410.6 479.9,410.8 481.3,410.9 482.7,411 484.1,411.1 485.5,411.2 486.9,411.2 488.4,411.2 489.8,411.2 491.2,411.1 492.6,411.1 494,411.2 495.4,411.4 496.8,411.6 V412.1 H301.6Z" fill="#00BA38" fill-opacity="0.33"/>
<path d="M301.6,412 303,412 304.5,412 305.9,412 307.3,411.9 308.7,411.9 310.1,411.8 311.5,411.8 312.9,411.8 314.4,411.8 315.8,411.8 317.2,411.8 318.6,411.8 320,411.7 321.4,411.7 322.8,411.7 324.3,411.8 325.7,411.8 327.1,411.7 328.5,411.6 329.9,411.5 331.3,411.4 332.7,411.3 334.2,411.2 335.6,411.1 337,411 338.4,410.8 339.8,410.7 341.2,410.5 342.6,410.3 344.1,410 345.5,409.7 346.9,409.4 348.3,408.9 349.7,408.5 351.1,407.9 352.6,407.3 354,406.6 355.4,405.8 356.8,404.7 358.2,403.6 359.6,402.2 361,400.9 362.5,399.4 363.9,397.9 365.3,396.3 366.7,394.5 368.1,392.6 369.5,390.5 370.9,388.2 372.4,385.8 373.8,383.3 375.2,380.3 376.6,377.1 378,373.9 379.4,371 380.8,368.2 382.3,365.6 383.7,363.1 385.1,360.7 386.5,358.3 387.9,355.9 389.3,353.5 390.7,351.1 392.2,348.8 393.6,346.7 395,344.6 396.4,342.6 397.8,340.8 399.2,339.4 400.6,338.3 402.1,337.5 403.5,336.7 404.9,336.2 406.3,336.1 407.7,336.3 409.1,336.7 410.6,337.4 412,338.4 413.4,339.9 414.8,341.6 416.2,343.2 417.6,344.6 419,345.8 420.5,347.1 421.9,348.5 423.3,350.1 424.7,351.8 426.1,353.6 427.5,355.7 428.9,358 430.4,360.3 431.8,362.8 433.2,365.2 434.6,367.9 436,370.6 437.4,373.6 438.8,376.5 440.3,379.1 441.7,381.4 443.1,383.5 444.5,385.7 445.9,387.8 447.3,390 448.7,392 450.2,394 451.6,395.8 453,397.4 454.4,398.9 455.8,400.2 457.2,401.4 458.6,402.6 460.1,403.6 461.5,404.5 462.9,405.3 464.3,406 465.7,406.7 467.1,407.2 468.5,407.8 470,408.2 471.4,408.7 472.8,409.2 474.2,409.6 475.6,410 477,410.4 478.5,410.6 479.9,410.8 481.3,411 482.7,411.1 484.1,411.2 485.5,411.2 486.9,411.2 488.4,411.1 489.8,411.1 491.2,411.2 492.6,411.4 494,411.7 495.4,412 496.8,412.1 V412.1 H301.6Z" fill="#619CFF" fill-opacity="0.33"/>
<path d="M307.3,411.8 308.7,411.6 310.1,411.3 311.5,411.2 312.9,411.3 314.4,411.4 315.8,411.4 317.2,411.5 318.6,411.6M327.1,411.9 328.5,411.9 329.9,411.9 331.3,411.9 332.7,411.8 334.2,411.7 335.6,411.6 337,411.4M345.5,409.5 346.9,409.1 348.3,408.7M378,373.8 379.4,370.5 380.8,367.4 382.3,364.6 383.7,361.9 385.1,359.3 386.5,356.9 387.9,354.5 389.3,352.1 390.7,349.8 392.2,347.5 393.6,345.3 395,343.1 396.4,340.9 397.8,338.9 399.2,337.2 400.6,336 402.1,335.2 403.5,334.6 404.9,334.3 406.3,334.1 407.7,334 409.1,334 410.6,334.1 412,334.9 413.4,336.5 414.8,338.6 416.2,340.6 417.6,342.2 419,343.6 420.5,344.9 421.9,346.3 423.3,347.8 424.7,349.5 426.1,351.3 427.5,353.3 428.9,355.6 430.4,358 431.8,360.4 433.2,363 434.6,365.6M438.8,374.7 440.3,377.4 441.7,379.9 443.1,382.4M445.9,387.1 447.3,389.5 448.7,391.7 450.2,393.6 451.6,395.4 453,396.9 454.4,398.3 455.8,399.6 457.2,400.8 458.6,401.9 460.1,402.9M462.9,404.7 464.3,405.5 465.7,406.2 467.1,406.8 468.5,407.3 470,407.7 471.4,408.1 472.8,408.5 474.2,408.9 475.6,409.4 477,409.7 478.5,409.9 479.9,410 481.3,410.1 482.7,410.3 484.1,410.5 485.5,410.9 486.9,411.2 488.4,411.5 489.8,411.7 491.2,411.9 492.6,412 494,412.1 495.4,412.1" fill="none" stroke="#F8766D" stroke-width="0.67" stroke-opacity="0.9" stroke-linejoin="round" stroke-linecap="butt"/>
<path d="M318.6,412 320,412 321.4,412 322.8,412 324.3,411.9M366.7,394.7 368.1,392.9 369.5,391 370.9,388.8 372.4,386.4 373.8,383.8 375.2,380.9 376.6,377.5 378,374.2 379.4,371.1M386.5,358.5 387.9,356.2 389.3,353.8 390.7,351.3 392.2,348.8 393.6,346.3 395,343.7 396.4,341.1 397.8,338.7 399.2,336.9 400.6,335.9 402.1,335.3 403.5,335.1 404.9,335 406.3,335.1 407.7,335.3 409.1,335.7 410.6,336.1 412,336.8 413.4,338 414.8,339.4 416.2,340.7 417.6,341.7 419,342.7 420.5,343.7 421.9,344.8 423.3,346.1 424.7,347.6 426.1,349.4 427.5,351.7 428.9,354.4 430.4,357.2 431.8,359.9 433.2,362.7 434.6,365.5 436,368.5 437.4,371.8 438.8,374.9 440.3,377.7 441.7,380.2 443.1,382.6 444.5,384.8 445.9,387 447.3,389.1 448.7,391.1 450.2,392.9 451.6,394.6 453,396.2 454.4,397.6 455.8,399 457.2,400.3 458.6,401.6 460.1,402.8 461.5,403.9 462.9,404.9 464.3,405.8M491.2,411.1 492.6,411.1 494,411.2 495.4,411.4 496.8,411.6" fill="none" stroke="#00BA38" stroke-width="0.67" stroke-opacity="0.9" stroke-linejoin="round" stroke-linecap="butt"/>
<path d="M301.6,412 303,412 304.5,412 305.9,412 307.3,411.9 308.7,411.9 310.1,411.8 311.5,411.8 312.9,411.8 314.4,411.8 315.8,411.8 317.2,411.8 318.6,411.8 320,411.7 321.4,411.7 322.8,411.7 324.3,411.8 325.7,411.8 327.1,411.7 328.5,411.6 329.9,411.5 331.3,411.4 332.7,411.3 334.2,411.2 335.6,411.1 337,411 338.4,410.8 339.8,410.7 341.2,410.5 342.6,410.3 344.1,410 345.5,409.7 346.9,409.4 348.3,408.9 349.7,408.5 351.1,407.9 352.6,407.3 354,406.6 355.4,405.8 356.8,404.7 358.2,403.6 359.6,402.2 361,400.9 362.5,399.4 363.9,397.9 365.3,396.3 366.7,394.5 368.1,392.6 369.5,390.5 370.9,388.2 372.4,385.8 373.8,383.3 375.2,380.3 376.6,377.1 378,373.9 379.4,371 380.8,368.2 382.3,365.6 383.7,363.1 385.1,360.7 386.5,358.3 387.9,355.9 389.3,353.5 390.7,351.1 392.2,348.8 393.6,346.7 395,344.6 396.4,342.6 397.8,340.8 399.2,339.4 400.6,338.3 402.1,337.5 403.5,336.7 404.9,336.2 406.3,336.1 407.7,336.3 409.1,336.7 410.6,337.4 412,338.4 413.4,339.9 414.8,341.6 416.2,343.2 417.6,344.6 419,345.8 420.5,347.1 421.9,348.5 423.3,350.1 424.7,351.8 426.1,353.6 427.5,355.7 428.9,358 430.4,360.3 431.8,362.8 433.2,365.2 434.6,367.9 436,370.6 437.4,373.6 438.8,376.5 440.3,379.1 441.7,381.4 443.1,383.5 444.5,385.7 445.9,387.8 447.3,390 448.7,392 450.2,394 451.6,395.8 453,397.4 454.4,398.9 455.8,400.2 457.2,401.4 458.6,402.6 460.1,403.6 461.5,404.5 462.9,405.3 464.3,406 465.7,406.7 467.1,407.2 468.5,407.8 470,408.2 471.4,408.7 472.8,409.2 474.2,409.6 475.6,410 477,410.4 478.5,410.6 479.9,410.8 481.3,411 482.7,411.1 484.1,411.2 485.5,411.2 486.9,411.2 488.4,411.1 489.8,411.1 491.2,411.2 492.6,411.4 494,411.7 495.4,412 496.8,412.1" fill="none" stroke="#619CFF" stroke-width="0.67" stroke-opacity="0.9" stroke-linejoin="round" stroke-linecap="butt"/>
</g>
<path d="M289.91,412.10H291.50M289.91,396.66H291.50M289.91,381.22H291.50M289.91,365.78H291.50M289.91,350.34H291.50M289.91,334.90H291.50" stroke="#555" stroke-width="0.58" fill="none"/>
<path d="M322.40,415.50V417.19M383.50,415.50V417.19M444.60,415.50V417.19M505.70,415.50V417.19" stroke="#555" stroke-width="0.55" fill="none"/>
<text transform="translate(288.63,414.71) scale(0.960,1)" font-size="5.70" text-anchor="end" fill="#4d4d4d">0</text>
<text transform="translate(288.63,399.27) scale(0.960,1)" font-size="5.70" text-anchor="end" fill="#4d4d4d">1</text>
<text transform="translate(288.63,383.83) scale(0.960,1)" font-size="5.70" text-anchor="end" fill="#4d4d4d">2</text>
<text transform="translate(288.63,368.39) scale(0.960,1)" font-size="5.70" text-anchor="end" fill="#4d4d4d">3</text>
<text transform="translate(288.63,352.95) scale(0.960,1)" font-size="5.70" text-anchor="end" fill="#4d4d4d">4</text>
<text transform="translate(288.63,337.51) scale(0.960,1)" font-size="5.70" text-anchor="end" fill="#4d4d4d">5</text>
<text transform="translate(322.40,423.84) scale(0.960,1)" font-size="5.70" text-anchor="middle" fill="#4d4d4d">0.4</text>
<text transform="translate(383.50,423.84) scale(0.960,1)" font-size="5.70" text-anchor="middle" fill="#4d4d4d">0.6</text>
<text transform="translate(444.60,423.84) scale(0.960,1)" font-size="5.70" text-anchor="middle" fill="#4d4d4d">0.8</text>
<text transform="translate(505.70,423.84) scale(0.960,1)" font-size="5.70" text-anchor="middle" fill="#4d4d4d">1.0</text>
<text transform="translate(281.97,319.50) rotate(-90) scale(1,0.920)" font-size="7.00" text-anchor="middle" fill="#000">density</text>
<text transform="translate(399.00,432.51) scale(0.920,1)" font-size="7.00" text-anchor="middle" fill="#000">value</text>
<text transform="translate(516.00,304.21) scale(0.920,1)" font-size="7.00" text-anchor="start" fill="#000">Chain</text>
<rect x="516.70" y="308.30" width="10.00" height="10.70" fill="#f2f2f2"/>
<rect x="517.15" y="308.75" width="9.10" height="9.80" fill="#F8766D" fill-opacity="0.33" stroke="#F8766D" stroke-width="0.6"/>
<text transform="translate(531.00,315.81) scale(0.960,1)" font-size="6.04" text-anchor="middle" fill="#333">1</text>
<rect x="516.70" y="319.00" width="10.00" height="10.50" fill="#f2f2f2"/>
<rect x="517.15" y="319.45" width="9.10" height="9.60" fill="#00BA38" fill-opacity="0.33" stroke="#00BA38" stroke-width="0.6"/>
<text transform="translate(531.00,326.41) scale(0.960,1)" font-size="6.04" text-anchor="middle" fill="#333">2</text>
<rect x="516.70" y="329.50" width="10.00" height="10.50" fill="#f2f2f2"/>
<rect x="517.15" y="329.95" width="9.10" height="9.60" fill="#619CFF" fill-opacity="0.33" stroke="#619CFF" stroke-width="0.6"/>
<text transform="translate(531.00,336.91) scale(0.960,1)" font-size="6.04" text-anchor="middle" fill="#333">3</text>
</svg>
</body></html>
